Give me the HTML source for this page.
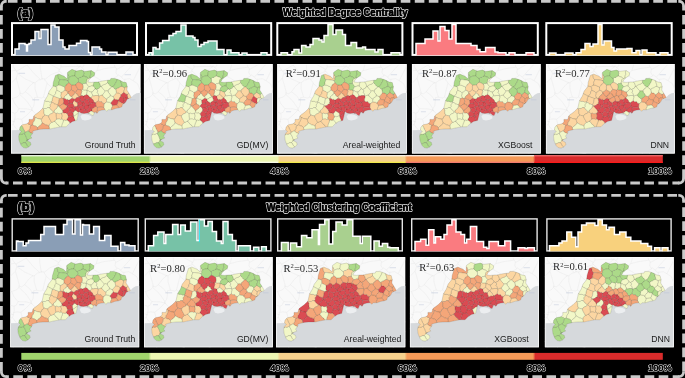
<!DOCTYPE html><html><head><meta charset="utf-8"><style>html,body{margin:0;padding:0;background:#000;overflow:hidden;width:685px;height:378px}svg{display:block}text{font-family:"Liberation Sans",sans-serif} .sf{font-family:"Liberation Serif",serif}</style></head><body>
<svg width="685" height="378" viewBox="0 0 685 378">
<rect width="685" height="378" fill="#000"/>
<defs>
<path id="prov" d="M42.3,18.4 L44.4,11.4 L47.9,10.1 L53.1,12.3 L56.2,14.9 L56.6,8.3 L61,5.3 L65.4,7 L70.7,6.1 L73.3,7.4 L80.3,6.6 L83.8,8.8 L83.4,11.4 L78.5,14.9 L76.8,18 L80.3,18.4 L84.7,18 L87.2,18 L91.4,17 L94.6,16.5 L99.3,16 L99.9,14.4 L103.6,14.4 L108.3,16 L112,18 L115.2,18.6 L116.3,22.8 L115.8,26 L117.9,29.2 L119.5,32 L120.3,33.4 L118.7,34.2 L116.3,35 L115.1,37.3 L113.9,38.9 L111.5,40.5 L110.7,42.9 L108.4,43.7 L104.4,44.5 L101.2,45.7 L97.3,45.7 L95.7,47.3 L94.1,45.7 L90.9,46.1 L87.7,46.9 L86.1,49.3 L83.8,47.7 L82.2,51.6 L80.6,51.1 L79,49.5 L76.3,49 L73,49.5 L70,49 L67.9,47.4 L66.8,52.2 L65.7,56.4 L61.5,57.5 L58.3,59.6 L55.2,62.7 L49.9,62.7 L44.6,63.8 L39.3,64.9 L32.3,65 L27.6,65.5 L23.8,66.5 L21.4,67.4 L21.9,68.4 L20.9,70.3 L19.5,72.2 L20.9,74.1 L18.5,75 L16.1,76.5 L17.6,77.4 L19.5,78.4 L20,80.8 L18,82.7 L15.2,84.1 L12.3,83.6 L10.4,81.7 L9,78.9 L8,76 L7.6,72.2 L8.5,69.3 L10.4,67.4 L8.5,66 L9,63.1 L11.4,60.8 L16.1,59.8 L18,57.9 L18,55.4 L21.8,55.4 L23.1,51.6 L28.2,47.8 L32,44 L33.5,37 L36.5,32 L38.3,27.1 L41.8,22.8 Z"/>
<filter id="gs" x="-0.1" y="-0.3" width="1.2" height="1.6" filterUnits="objectBoundingBox"><feColorMatrix type="saturate" values="0"/></filter>
<path id="k0" d="M97.2,26.8 L97.69,25.51 L98.97,24.97 L99.59,23.81 L100.7,23.1 L99.53,22.06 L98.58,20.82 L97.45,19.74 L96.5,18.5 L95.14,19.77 L93.43,20.45 L91.59,20.93 L90.27,22.26 L90.2,22.4 L91,23.72 L92.02,24.86 L93.04,25.99 L94.1,27.1 L95.11,26.72 L96.19,27.13Z"/>
<path id="k1" d="M101.3,41.3 L101.1,40.46 L100.37,39.94 L100,39.2 L98.67,38.3 L97.13,38.06 L95.6,37.8 L95.03,38.53 L94.09,38.8 L93.5,39.5 L92.85,40.76 L92.81,42.14 L92.7,43.5 L93.13,44.2 L93.59,44.89 L93.81,45.74 L94.1,45.7 L95.7,47.3 L97.3,45.7 L100.5,45.7 L100.42,44.17 L101.35,42.82Z"/>
<path id="k2" d="M42.3,32.3 L43.5,30.99 L44.64,29.64 L44.75,27.62 L46.1,26.4 L45.8,25.17 L45.88,23.84 L45.2,22.7 L44.07,22.61 L43.06,21.96 L41.89,21.97 L41.8,22.8 L38.3,27.1 L37.5,29.2 L38.48,30.31 L39.84,30.84 L41.06,31.58Z"/>
<path id="k3" d="M32.1,44.8 L33.66,44.46 L35.31,44.6 L36.74,43.47 L38.4,43.7 L39.43,42.55 L39.1,40.84 L40.14,39.69 L40.62,38.31 L40.4,37.8 L38.65,37.91 L37.04,37.26 L35.29,37.36 L33.74,36.6 L33.5,37 L32,44 L31.57,44.43Z"/>
<path id="k4" d="M64.2,46.3 L63.15,46.89 L62.75,48.11 L61.8,48.8 L62.24,49.79 L62.29,50.84 L62.29,51.86 L62.7,52.1 L63.93,51.69 L64.96,50.87 L65.94,49.95 L67.34,49.83 L67.7,48.2 L66.47,47.68 L65.48,46.72Z"/>
<path id="k5" d="M72.8,11.9 L73.8,12.67 L75.11,12.94 L76.3,13.4 L77.1,14.5 L77.91,14.47 L78.63,14.08 L79.4,13.9 L79.07,12.02 L79.93,10.26 L79.55,8.38 L80.21,6.61 L73.3,7.4 L72.2,6.8 L72.57,8.05 L72.87,9.31 L72.58,10.63Z"/>
<path id="k6" d="M77.5,48.8 L78.58,48.16 L79.59,47.37 L80.9,47.2 L81.07,46.3 L80.98,45.4 L81,44.5 L80.02,44.19 L79.19,43.65 L78.5,42.9 L77.72,44.24 L76.59,45.25 L75.4,46.2 L76.08,47.08 L76.63,48.07Z"/>
<path id="k7" d="M64.2,28.3 L65.06,27.33 L66.14,26.55 L66.8,25.4 L66.42,24.13 L65.74,22.97 L64.97,21.86 L64.8,20.5 L63.48,20.76 L62.15,20.89 L60.8,20.9 L60.39,22.44 L60.58,24.05 L60.3,25.6 L61.41,26.77 L62.93,27.36Z"/>
<path id="k8" d="M82,22.1 L82.97,22.83 L83.7,23.74 L84.1,24.9 L84.72,25.15 L85.33,25.41 L86,25.5 L87.02,24.69 L88.32,24.25 L88.89,22.83 L90.23,22.44 L90.3,22.3 L89.28,21.42 L89.13,20.05 L88.38,19.03 L87.8,17.86 L87.2,18 L84.7,18 L82.9,18.2 L82.52,19.48 L82.12,20.76Z"/>
<path id="k9" d="M96.5,18.5 L97.45,19.74 L98.58,20.82 L99.53,22.06 L100.69,23.12 L101.8,23.1 L103.21,21.31 L104.37,19.38 L105.46,17.41 L106.3,15.32 L103.6,14.4 L99.9,14.4 L99.3,16 L96.4,16.3 L96.58,17.03 L96.45,17.77Z"/>
<path id="k10" d="M45.3,55.6 L46.71,55.05 L48.16,54.86 L49.68,55.55 L51.1,55.1 L50.71,53.59 L51.43,52.04 L50.89,50.53 L50.9,49 L49.45,49.41 L47.99,49.73 L46.42,48.95 L45,49.6 L45.08,51.1 L45.14,52.6 L45.49,54.09Z"/>
<path id="k11" d="M45.2,22.7 L45.81,22.04 L46.67,21.72 L47.3,21.1 L47.96,19.8 L47.81,18.3 L48.51,17.01 L48.7,15.6 L47.76,14.54 L47.31,13.26 L47.23,11.8 L46.42,10.65 L44.4,11.4 L42.3,18.4 L41.9,22 L43.06,21.96 L44.07,22.61Z"/>
<path id="k12" d="M100,39.2 L100.51,37.89 L101.51,36.94 L102.43,35.92 L103.2,34.8 L102.74,34.05 L102.58,33.18 L102.2,32.4 L101.13,32.31 L100.19,31.67 L99.1,31.7 L98.2,33.13 L96.54,33.73 L95.5,35 L95.8,35.92 L95.31,36.88 L95.6,37.8 L97.13,38.06 L98.67,38.3Z"/>
<path id="k13" d="M60.3,25.6 L60.58,24.05 L60.39,22.44 L60.8,20.9 L59.75,20.11 L58.77,19.22 L57.6,18.6 L56.67,19.77 L55.26,20.47 L54.67,21.97 L53.5,22.9 L53.74,23.99 L53.53,25.15 L54,26.2 L54.97,26.77 L56,27.27 L56.7,28.2 L58.15,27.68 L59.3,26.75Z"/>
<path id="k14" d="M48.7,15.6 L50.83,15.62 L52.93,15.94 L55.04,16.16 L57.1,16.7 L57.84,15.54 L57.67,14.03 L58.5,12.9 L57.5,12.04 L57.39,10.62 L56.52,9.69 L56.2,14.9 L53.1,12.3 L47.9,10.1 L46.4,10.7 L47.23,11.8 L47.31,13.26 L47.76,14.54Z"/>
<path id="k15" d="M87.5,31.5 L87.45,29.92 L86.26,28.62 L86.83,26.89 L86,25.5 L85.33,25.41 L84.72,25.15 L84.1,24.9 L82.91,25.83 L82.08,27.18 L80.7,27.9 L80.59,29.28 L81.36,30.47 L81.5,31.8 L83.01,31.97 L84.49,31.49 L86,31.54Z"/>
<path id="k16" d="M75.3,18.9 L75.64,17.33 L76.03,15.77 L77.1,14.5 L76.3,13.4 L75.11,12.94 L73.8,12.67 L72.8,11.9 L71.2,12.12 L70.13,13.41 L68.46,13.5 L67.3,14.6 L67.46,15.81 L67.63,17.01 L67.2,18.2 L68.75,18.78 L70.18,19.58 L71.6,20.4 L72.7,19.58 L74.18,19.67Z"/>
<path id="k17" d="M71.1,37.8 L71.72,37.56 L72.39,37.84 L73,37.6 L73.52,37.05 L73.91,36.38 L74.5,35.9 L73.77,34.68 L73.19,33.4 L72.9,32 L71.99,31.73 L71.09,31.36 L70.1,31.5 L69.55,31.89 L68.91,32.15 L68.4,32.6 L68.64,34.03 L69.34,35.35 L69.5,36.8 L70,37.19 L70.52,37.54Z"/>
<path id="k18" d="M13.5,68.9 L12.24,69.73 L10.9,70.32 L9.21,69.94 L8,70.91 L7.6,72.2 L8,76 L9,78.9 L9.5,79.8 L11.14,79.59 L12.6,78.63 L14.3,78.7 L15.01,77.75 L15.89,76.91 L16.2,75.7 L15.56,73.99 L15.01,72.24 L13.98,70.68Z"/>
<path id="k19" d="M51.7,48.3 L52.98,49.25 L54.72,48.95 L56,49.9 L57.03,48.99 L57.83,47.87 L58.8,46.9 L58.69,46.17 L58.84,45.42 L58.6,44.7 L57.95,43.68 L57.14,42.83 L56.1,42.25 L55.9,42.3 L55.23,43.85 L53.99,44.91 L52.38,45.66 L51.72,47.25Z"/>
<path id="k20" d="M107.3,36.2 L108.27,34.84 L109.01,33.34 L110,32 L109.84,31.61 L109.92,31.2 L109.9,30.8 L108.94,29.88 L107.89,29.1 L106.46,28.93 L105.5,28 L104.95,29.31 L104.11,30.39 L103.23,31.46 L102.2,32.4 L102.58,33.18 L102.74,34.05 L103.2,34.8 L104.44,35.65 L105.91,35.81Z"/>
<path id="k21" d="M42.9,47.8 L43.59,48.41 L44.21,49.11 L45,49.6 L46.42,48.95 L47.99,49.73 L49.45,49.41 L50.94,49.01 L51.67,48.27 L51.7,47.2 L51.08,45.51 L49.74,44.39 L48.63,43.09 L47.49,41.82 L46.8,41.6 L46.12,43.34 L45.19,44.91 L43.43,45.97Z"/>
<path id="k22" d="M42.3,32.4 L41.65,33.69 L41.28,35.07 L41.12,36.54 L40.39,37.78 L40.6,38.3 L42.26,38.56 L43.34,40.11 L45.08,40.21 L46.5,41 L47.38,39.49 L47.88,37.86 L48.07,36.12 L48.6,34.5 L47.12,33.7 L45.48,33.36 L44.03,32.45Z"/>
<path id="k23" d="M74.9,40.6 L74.27,41.62 L73.27,42.34 L72.68,43.44 L72.7,44 L73.05,44.63 L73.53,45.18 L73.9,45.8 L74.43,45.82 L74.91,46.04 L75.4,46.2 L76.59,45.25 L77.72,44.24 L78.5,42.9 L78.21,42.23 L77.94,41.55 L78,40.8 L76.95,40.96 L75.93,40.78Z"/>
<path id="k24" d="M56,55.9 L57.06,56.91 L58.22,57.85 L58.9,59.2 L61.5,57.5 L64.2,56.8 L63.86,55.18 L63.1,53.7 L62.68,52.15 L62.3,51.9 L61.02,51.85 L59.87,52.77 L58.53,52.28 L57.3,52.6 L57.05,53.77 L56.1,54.67Z"/>
<path id="k25" d="M79.4,13.9 L78.63,14.08 L77.91,14.47 L77.1,14.5 L76.03,15.77 L75.64,17.33 L75.3,18.9 L75.74,20.45 L76.9,21.54 L77.8,22.8 L79.18,22.44 L80.53,21.9 L82,22.1 L82.12,20.76 L82.52,19.48 L82.86,18.17 L80.3,18.4 L76.8,18 L78.5,14.9 L79.71,14.03Z"/>
<path id="k26" d="M23.8,53.3 L25.32,53.96 L26.82,54.65 L28.45,54.91 L30.1,55.1 L31.43,54.44 L31.69,52.81 L33.05,52.18 L33.8,51 L33.11,49.52 L32.82,47.94 L33,46.22 L32.09,44.83 L31.57,44.43 L28.2,47.8 L23.1,51.6 L22.9,52.1 L23.11,52.57 L23.45,52.94Z"/>
<path id="k27" d="M23.8,53.3 L23.78,55.29 L23.05,57.08 L21.82,58.74 L21.7,60.7 L22.71,61.78 L24.27,61.94 L25.5,62.66 L26.6,63.6 L27.77,62.4 L29.18,61.42 L30.5,60.36 L31.3,58.8 L30.8,57.6 L30.46,56.35 L30.1,55.1 L28.45,54.91 L26.82,54.65 L25.32,53.96Z"/>
<path id="k28" d="M21.37,69.41 L21.9,68.4 L21.4,67.4 L23.8,66.5 L27,65.7 L27.04,64.97 L26.54,64.34 L26.6,63.6 L25.5,62.66 L24.27,61.94 L22.71,61.78 L21.7,60.7 L21,60.89 L20.38,61.26 L19.7,61.5 L18.94,62.8 L18.82,64.36 L18.14,65.69 L17.4,67 L18.48,68.22 L19.9,68.88Z"/>
<path id="k29" d="M101.8,23.1 L102.83,23.82 L103.59,24.91 L104.8,25.4 L106.25,24.38 L107.92,23.84 L109.34,22.77 L111.1,22.4 L110.86,20.85 L110.4,19.37 L110.05,17.85 L109.2,16.48 L108.3,16 L106.3,15.3 L105.46,17.41 L104.37,19.38 L103.21,21.31Z"/>
<path id="k30" d="M44,57.3 L42.79,57.44 L41.72,58.11 L40.5,58.2 L39.42,59.36 L38.36,60.53 L37.9,62.1 L38.1,63.02 L38.34,63.94 L38.2,64.92 L39.3,64.9 L44.6,63.8 L49,62.9 L47.92,61.35 L46.23,60.34 L45.13,58.81Z"/>
<path id="k31" d="M54,26.2 L53.53,25.15 L53.74,23.99 L53.5,22.9 L51.98,22.35 L50.51,21.62 L49,21.02 L47.3,21.1 L46.67,21.72 L45.81,22.04 L45.2,22.7 L45.88,23.84 L45.8,25.17 L46.1,26.4 L47.35,27.11 L48.75,27.56 L49.8,28.6 L51.4,28.15 L52.68,27.14Z"/>
<path id="k32" d="M72.9,32 L73.76,31.37 L74.86,31.13 L75.6,30.3 L75.9,29.12 L76.16,27.93 L76.2,26.66 L76.1,26.5 L74.65,25.91 L73.02,26.02 L71.6,25.3 L71.2,25.52 L70.84,25.8 L70.5,26.1 L70.83,27.48 L70.45,28.81 L69.94,30.13 L70.1,31.5 L71.09,31.36 L71.99,31.73Z"/>
<path id="k33" d="M104.8,25.4 L104.92,26.3 L104.98,27.21 L105.5,28 L106.46,28.93 L107.89,29.1 L108.94,29.88 L109.9,30.8 L110.93,30.15 L111.72,29.21 L112.7,28.5 L112.96,26.87 L113.61,25.29 L113.5,23.6 L112.69,23.21 L111.89,22.82 L111.1,22.4 L109.34,22.77 L107.92,23.84 L106.25,24.38Z"/>
<path id="k34" d="M84.6,38.9 L85.41,37.93 L86.63,37.41 L87.4,36.4 L87.56,34.87 L88.12,33.37 L87.83,31.82 L87.5,31.5 L86,31.54 L84.49,31.49 L83.01,31.97 L81.5,31.8 L81.03,32.43 L80.41,32.91 L79.9,33.5 L80.64,34.95 L82.1,35.86 L82.7,37.42 L83.81,38.59Z"/>
<path id="k35" d="M38.4,43.7 L36.74,43.47 L35.31,44.6 L33.66,44.46 L32.1,44.8 L33,46.22 L32.82,47.94 L33.11,49.52 L33.8,51 L35.01,51.4 L36.25,51.71 L37.5,52 L38.52,50.65 L39.95,49.78 L41.63,49.22 L42.6,47.8 L41.42,46.91 L40.27,45.99 L39.39,44.79Z"/>
<path id="k36" d="M92.7,43.5 L92.81,42.14 L92.85,40.76 L93.5,39.5 L91.76,39.15 L90.68,37.51 L88.69,37.63 L87.4,36.4 L86.63,37.41 L85.41,37.93 L84.6,38.9 L84.63,40.06 L84.86,41.19 L85.2,42.3 L85.53,42.7 L85.95,43.02 L86.3,43.4 L87.9,43.25 L89.51,43.13 L91.1,43.21Z"/>
<path id="k37" d="M48.6,34.5 L48.07,36.12 L47.88,37.86 L47.38,39.49 L46.5,41.04 L46.8,41.59 L47.5,41.8 L49,41.85 L50.29,41.23 L51.39,40.01 L52.9,40.1 L52.48,38.7 L52.9,37.24 L52.43,35.84 L52.5,34.4 L51.81,34.37 L51.2,34.1 L50.6,33.8 L49.91,33.95 L49.23,34.17Z"/>
<path id="k38" d="M113.6,34.6 L112.2,34.01 L111.11,33 L110,32 L109.01,33.34 L108.27,34.84 L107.27,36.17 L107.4,36.7 L108.55,37.8 L109.89,38.54 L111.27,39.2 L112.82,39.62 L112.9,39.6 L113.62,38.43 L112.97,37.06 L113.23,35.82Z"/>
<path id="k39" d="M70.5,41.1 L71.06,42.03 L72.11,42.5 L72.7,43.4 L73.27,42.34 L74.27,41.62 L74.9,40.6 L74.57,39.41 L73.32,38.8 L73,37.6 L72.39,37.84 L71.72,37.56 L71.1,37.8 L71.12,38.94 L70.85,40.03Z"/>
<path id="k40" d="M65.15,6.9 L61,5.3 L56.6,8.3 L56.5,9.7 L57.39,10.62 L57.5,12.04 L58.5,12.9 L59.84,12.56 L61.14,12.02 L62.58,12.13 L63.9,11.7 L64.2,10.06 L64.33,8.38Z"/>
<path id="k41" d="M9.46,79.82 L10.4,81.7 L12.3,83.6 L15.2,84.1 L17.9,82.8 L16.67,82.06 L15.95,80.88 L15.51,79.45 L14.3,78.7 L12.6,78.63 L11.14,79.59Z"/>
<path id="k42" d="M105.8,40.7 L104.3,40.92 L102.81,41.18 L101.3,41.3 L101.35,42.82 L100.42,44.17 L100.48,45.7 L101.2,45.7 L104.4,44.5 L108.1,43.8 L107.61,42.56 L106.44,41.83Z"/>
<path id="k43" d="M56,55.9 L54.83,56.36 L53.58,55.9 L52.4,56.2 L52.06,57.86 L51.4,59.42 L50.77,61 L50.57,62.7 L55.2,62.7 L58.3,59.6 L58.9,59.2 L58.22,57.85 L57.06,56.91Z"/>
<path id="k44" d="M19.7,61.5 L18.83,60.51 L17.52,60.17 L16.5,59.4 L16.1,59.8 L11.4,60.8 L10.5,61.6 L11.63,63.14 L12.28,64.91 L13.29,66.5 L13.9,68.3 L15.11,67.97 L16.17,67.25 L17.4,67 L18.14,65.69 L18.82,64.36 L18.94,62.8Z"/>
<path id="k45" d="M61,33.8 L60.06,34.8 L58.96,35.56 L57.7,36.1 L57.64,37.32 L57.73,38.53 L58.1,39.7 L59.33,39.51 L60.57,39.74 L61.8,39.7 L62.06,38.52 L62.8,37.6 L63.4,36.6 L63.21,36.15 L63.22,35.66 L63.1,35.2 L62.53,34.53 L61.55,34.49Z"/>
<path id="k46" d="M85.84,49.12 L86.1,49.3 L87.7,46.9 L90.9,46.1 L93.8,45.7 L93.59,44.89 L93.13,44.2 L92.7,43.5 L91.1,43.21 L89.51,43.13 L87.9,43.25 L86.3,43.4 L86.35,44.84 L86.25,46.27 L85.54,47.64Z"/>
<path id="k47" d="M77.8,22.8 L76.9,21.54 L75.74,20.45 L75.3,18.9 L74.18,19.67 L72.7,19.58 L71.6,20.4 L72.03,22.03 L72,23.67 L71.6,25.3 L73.02,26.02 L74.65,25.91 L76.1,26.5 L76.28,25.09 L76.83,23.85Z"/>
<path id="k48" d="M83.8,38.6 L82.7,37.42 L82.1,35.86 L80.64,34.95 L79.89,33.47 L79.5,33.5 L78.94,34.39 L77.89,34.84 L77.4,35.8 L77.66,37.23 L78.19,38.59 L78.5,40 L79.83,39.69 L81.06,38.98 L82.56,39.27Z"/>
<path id="k49" d="M87.4,36.4 L88.69,37.63 L90.68,37.51 L91.76,39.15 L93.5,39.5 L94.09,38.8 L95.03,38.53 L95.6,37.8 L95.31,36.88 L95.8,35.92 L95.5,35 L94.29,34.24 L93.29,33.26 L92.16,32.43 L91.5,31.1 L90.22,31.08 L89.05,31.67 L87.8,31.8 L88.12,33.37 L87.56,34.87Z"/>
<path id="k50" d="M68.4,32.6 L66.99,31.91 L66.66,30.14 L65.03,29.67 L64.2,28.4 L63.2,29.33 L62.82,30.76 L61.38,31.33 L60.8,32.6 L60.83,33.01 L60.99,33.39 L61,33.8 L61.55,34.49 L62.53,34.53 L63.1,35.2 L64.62,34.95 L65.61,33.62 L67.14,33.39Z"/>
<path id="k51" d="M31.3,58.8 L32.88,59.77 L34.42,60.81 L36.29,61.2 L37.9,62.1 L38.36,60.53 L39.42,59.36 L40.5,58.2 L39.67,56.69 L38.84,55.18 L38.03,53.65 L37.5,52 L36.25,51.71 L35.01,51.4 L33.8,51 L33.05,52.18 L31.69,52.81 L31.43,54.44 L30.1,55.1 L30.46,56.35 L30.8,57.6Z"/>
<path id="k52" d="M67.2,18.2 L67.63,17.01 L67.46,15.81 L67.3,14.6 L66.02,13.8 L64.85,12.88 L63.9,11.7 L62.58,12.13 L61.14,12.02 L59.84,12.56 L58.5,12.9 L57.67,14.03 L57.84,15.54 L57.1,16.7 L57.25,17.34 L57.26,18.01 L57.6,18.6 L58.77,19.22 L59.75,20.11 L60.8,20.9 L62.15,20.89 L63.48,20.76 L64.8,20.5 L65.49,19.61 L66.45,19.02Z"/>
<path id="k53" d="M91.5,31.1 L92.31,29.73 L93.38,28.53 L94.1,27.1 L93.04,25.99 L92.02,24.86 L91,23.72 L90.2,22.4 L88.89,22.83 L88.32,24.25 L87.02,24.69 L86,25.5 L86.83,26.89 L86.26,28.62 L87.45,29.92 L87.52,31.54 L87.8,31.8 L89.05,31.67 L90.22,31.08Z"/>
<path id="k54" d="M57.3,52.6 L58.53,52.28 L59.87,52.77 L61.02,51.85 L62.3,51.9 L62.29,50.84 L62.24,49.79 L61.8,48.8 L60.82,48.13 L59.78,47.57 L58.8,46.9 L57.83,47.87 L57.03,48.99 L56,49.9 L56.58,50.73 L56.89,51.69Z"/>
<path id="k55" d="M62.7,52.1 L63.1,53.7 L63.86,55.18 L64.25,56.78 L65.7,56.4 L66.8,52.2 L67.3,49.8 L65.94,49.95 L64.96,50.87 L63.93,51.69Z"/>
<path id="k56" d="M52.51,34.4 L53,34.2 L53.53,32.65 L54.59,31.51 L56.05,30.68 L56.83,29.26 L56.7,28.2 L56,27.27 L54.97,26.77 L54,26.2 L52.68,27.14 L51.4,28.15 L49.8,28.6 L50.1,29.88 L49.66,31.28 L49.88,32.58 L50.6,33.8 L51.2,34.1 L51.81,34.37Z"/>
<path id="k57" d="M66.7,38.7 L65.46,38.22 L64.29,37.62 L63.4,36.6 L62.8,37.6 L62.06,38.52 L61.8,39.7 L62.47,40.78 L63.05,41.91 L63.7,43 L64.58,42.4 L65.7,42.43 L66.6,41.9 L66.77,40.84 L66.36,39.76Z"/>
<path id="k58" d="M72.8,11.9 L72.58,10.63 L72.87,9.31 L72.57,8.05 L72.19,6.85 L70.7,6.1 L65.4,7 L65.2,6.9 L64.33,8.38 L64.2,10.06 L63.9,11.7 L64.85,12.88 L66.02,13.8 L67.3,14.6 L68.46,13.5 L70.13,13.41 L71.2,12.12Z"/>
<path id="k59" d="M52.9,40.1 L53.93,40.79 L55.11,41.28 L55.94,42.26 L56.1,42.2 L56.72,41.33 L57.31,40.43 L58.1,39.7 L57.73,38.53 L57.64,37.32 L57.7,36.1 L56.65,35.32 L55.25,35.4 L54.26,34.47 L53.03,34.24 L52.5,34.4 L52.43,35.84 L52.9,37.24 L52.48,38.7Z"/>
<path id="k60" d="M58.1,39.7 L57.31,40.43 L56.72,41.33 L56.1,42.2 L57.14,42.83 L57.95,43.68 L58.6,44.7 L59.8,44.18 L61.08,43.92 L62.41,43.86 L63.63,43.26 L63.7,43 L63.05,41.91 L62.47,40.78 L61.8,39.7 L60.57,39.74 L59.33,39.51Z"/>
<path id="k61" d="M42.6,47.8 L41.63,49.22 L39.95,49.78 L38.52,50.65 L37.5,52 L38.03,53.65 L38.84,55.18 L39.67,56.69 L40.5,58.2 L41.72,58.11 L42.79,57.44 L44,57.3 L44.28,56.62 L44.78,56.1 L45.3,55.6 L45.49,54.09 L45.14,52.6 L45.08,51.1 L45,49.6 L44.21,49.11 L43.59,48.41 L42.86,47.79Z"/>
<path id="k62" d="M117.99,29.36 L117.9,29.2 L115.8,26 L116.3,22.8 L116.3,22.7 L115.33,22.88 L114.35,23.03 L113.5,23.6 L113.61,25.29 L112.96,26.87 L112.7,28.5 L113.93,29.14 L114.96,30.17 L116.4,30.4 L116.95,30.09 L117.45,29.71Z"/>
<path id="k63" d="M73.9,45.8 L73.53,45.18 L73.05,44.63 L72.7,44 L71.48,44.54 L70.22,44.9 L68.9,45.1 L68.53,45.87 L68.37,46.73 L68.05,47.51 L70,49 L71.4,49.2 L71.98,47.88 L73.16,47Z"/>
<path id="k64" d="M113.5,23.6 L114.35,23.03 L115.33,22.88 L116.28,22.73 L115.2,18.6 L112,18 L109.2,16.5 L110.05,17.85 L110.4,19.37 L110.86,20.85 L111.1,22.4 L111.89,22.82 L112.69,23.21Z"/>
<path id="k65" d="M105.5,28 L104.98,27.21 L104.92,26.3 L104.8,25.4 L103.59,24.91 L102.83,23.82 L101.85,23.12 L100.7,23.1 L99.59,23.81 L98.97,24.97 L97.69,25.51 L97.2,26.8 L97.27,28.18 L97.93,29.33 L99.1,30.29 L99.1,31.7 L100.19,31.67 L101.13,32.31 L102.2,32.4 L103.23,31.46 L104.11,30.39 L104.95,29.31Z"/>
<path id="k66" d="M85.2,42.3 L83.61,42.67 L82.53,44.02 L81,44.5 L80.98,45.4 L81.07,46.3 L80.9,47.2 L81.7,47.79 L82.63,48.23 L83.23,49.08 L83.8,47.7 L85.8,49.1 L85.54,47.64 L86.25,46.27 L86.35,44.84 L86.3,43.4 L85.95,43.02 L85.53,42.7Z"/>
<path id="k67" d="M60.8,32.6 L59.46,32.19 L58.64,31.14 L58.11,29.75 L56.8,29.3 L56.05,30.68 L54.59,31.51 L53.53,32.65 L53,34.2 L54.26,34.47 L55.25,35.4 L56.65,35.32 L57.7,36.1 L58.96,35.56 L60.06,34.8 L61,33.8 L60.99,33.39 L60.83,33.01Z"/>
<path id="k68" d="M116.4,30.4 L116.23,31.44 L116.59,32.46 L116.5,33.5 L116.98,33.77 L117.31,34.24 L117.82,34.49 L118.7,34.2 L120.3,33.4 L119.5,32 L118,29.4 L117.45,29.71 L116.95,30.09Z"/>
<path id="k69" d="M112.7,28.5 L111.72,29.21 L110.93,30.15 L109.9,30.8 L109.92,31.2 L109.84,31.61 L110,32 L111.11,33 L112.2,34.01 L113.6,34.6 L114.49,34.04 L115.59,34.01 L116.5,33.5 L116.59,32.46 L116.23,31.44 L116.4,30.4 L114.96,30.17 L113.93,29.14Z"/>
<path id="k70" d="M78,40.8 L77.94,41.55 L78.21,42.23 L78.5,42.9 L79.19,43.65 L80.02,44.19 L81,44.5 L82.53,44.02 L83.61,42.67 L85.2,42.3 L84.86,41.19 L84.63,40.06 L84.64,38.88 L83.8,38.6 L82.56,39.27 L81.06,38.98 L79.83,39.69 L78.46,40.02Z"/>
<path id="k71" d="M71.6,25.3 L72,23.67 L72.03,22.03 L71.6,20.4 L70.18,19.58 L68.75,18.78 L67.2,18.2 L66.45,19.02 L65.49,19.61 L64.8,20.5 L64.97,21.86 L65.74,22.97 L66.42,24.13 L66.8,25.4 L68.07,25.47 L69.25,25.98 L70.5,26.1 L70.84,25.8 L71.2,25.52Z"/>
<path id="k72" d="M37.51,29.25 L36.5,32 L33.7,36.6 L35.29,37.36 L37.04,37.26 L38.65,37.91 L40.4,37.8 L41.12,36.54 L41.28,35.07 L41.65,33.69 L42.31,32.43 L42.3,32.3 L41.06,31.58 L39.84,30.84 L38.48,30.31Z"/>
<path id="k73" d="M50.9,49 L50.89,50.53 L51.43,52.04 L50.71,53.59 L51.1,55.1 L51.44,55.58 L51.99,55.8 L52.4,56.2 L53.58,55.9 L54.83,56.36 L56,55.9 L56.1,54.67 L57.05,53.77 L57.3,52.6 L56.89,51.69 L56.58,50.73 L56,49.9 L54.72,48.95 L52.98,49.25 L51.67,48.27Z"/>
<path id="k74" d="M71.44,49.24 L73,49.5 L76.3,49 L77.4,49.2 L77.5,48.8 L76.63,48.07 L76.08,47.08 L75.4,46.2 L74.91,46.04 L74.43,45.82 L73.9,45.8 L73.16,47 L71.98,47.88Z"/>
<path id="k75" d="M107.4,36.7 L106.9,38.05 L106.6,39.48 L105.8,40.7 L106.44,41.83 L107.61,42.56 L108.07,43.77 L108.4,43.7 L110.7,42.9 L111.5,40.5 L112.8,39.6 L111.27,39.2 L109.89,38.54 L108.55,37.8Z"/>
<path id="k76" d="M74.5,35.9 L75.46,35.56 L76.43,35.82 L77.4,35.8 L77.89,34.84 L78.94,34.39 L79.5,33.5 L78.4,32.85 L77.71,31.7 L76.67,30.98 L75.6,30.3 L74.86,31.13 L73.76,31.37 L72.9,32 L73.19,33.4 L73.77,34.68Z"/>
<path id="k77" d="M73,37.6 L73.32,38.8 L74.57,39.41 L74.9,40.6 L75.93,40.78 L76.95,40.96 L77.97,40.8 L78.5,40 L78.19,38.59 L77.66,37.23 L77.4,35.8 L76.43,35.82 L75.46,35.56 L74.5,35.9 L73.91,36.38 L73.52,37.05Z"/>
<path id="k78" d="M37.9,62.1 L36.29,61.2 L34.42,60.81 L32.88,59.77 L31.3,58.8 L30.5,60.36 L29.18,61.42 L27.77,62.4 L26.6,63.6 L26.54,64.34 L27.04,64.97 L27.01,65.65 L27.6,65.5 L32.3,65 L38.2,64.9 L38.34,63.94 L38.1,63.02Z"/>
<path id="k79" d="M68.9,45.1 L68.04,44.19 L67.68,42.96 L66.87,42.01 L66.6,41.9 L65.7,42.43 L64.58,42.4 L63.74,43.05 L63.6,43.3 L63.83,44.29 L63.84,45.33 L64.2,46.3 L65.48,46.72 L66.47,47.68 L67.72,48.19 L67.9,47.4 L68,47.5 L68.37,46.73 L68.53,45.87Z"/>
<path id="k80" d="M70.5,41.1 L70.85,40.03 L71.12,38.94 L71.1,37.8 L70.52,37.54 L70,37.19 L69.5,36.8 L68.45,37.26 L67.43,37.77 L66.7,38.7 L66.36,39.76 L66.77,40.84 L66.58,41.89 L66.9,42 L68.09,41.66 L69.31,41.43Z"/>
<path id="k81" d="M57.6,18.6 L57.26,18.01 L57.25,17.34 L57.1,16.7 L55.04,16.16 L52.93,15.94 L50.83,15.62 L48.7,15.6 L48.51,17.01 L47.81,18.3 L47.96,19.8 L47.3,21.1 L49,21.02 L50.51,21.62 L51.98,22.35 L53.5,22.9 L54.67,21.97 L55.26,20.47 L56.67,19.77Z"/>
<path id="k82" d="M80.9,47.2 L79.59,47.37 L78.58,48.16 L77.46,48.75 L77.4,49.2 L79,49.5 L80.6,51.1 L82.2,51.6 L83.2,49.1 L82.63,48.23 L81.7,47.79Z"/>
<path id="k83" d="M80.7,27.9 L82.08,27.18 L82.91,25.83 L84.1,24.9 L83.7,23.74 L82.97,22.83 L82,22.1 L80.53,21.9 L79.18,22.44 L77.8,22.8 L76.83,23.85 L76.28,25.09 L76.12,26.51 L76.2,26.7 L77.73,26.99 L79.07,27.97Z"/>
<path id="k84" d="M70.1,31.5 L69.94,30.13 L70.45,28.81 L70.83,27.48 L70.5,26.1 L69.25,25.98 L68.07,25.47 L66.8,25.4 L66.14,26.55 L65.06,27.33 L64.19,28.29 L64.2,28.4 L65.03,29.67 L66.66,30.14 L66.99,31.91 L68.39,32.6 L68.4,32.6 L68.91,32.15 L69.55,31.89Z"/>
<path id="k85" d="M79.44,13.92 L79.71,14.03 L83.4,11.4 L83.8,8.8 L80.3,6.6 L80.2,6.6 L79.55,8.38 L79.93,10.26 L79.07,12.02Z"/>
<path id="k86" d="M49.8,28.6 L48.75,27.56 L47.35,27.11 L46.1,26.4 L44.75,27.62 L44.64,29.64 L43.5,30.99 L42.27,32.3 L42.3,32.4 L44.03,32.45 L45.48,33.36 L47.12,33.7 L48.6,34.5 L49.23,34.17 L49.91,33.95 L50.6,33.8 L49.88,32.58 L49.66,31.28 L50.1,29.88Z"/>
<path id="k87" d="M46.5,41 L45.08,40.21 L43.34,40.11 L42.26,38.56 L40.6,38.3 L40.14,39.69 L39.1,40.84 L39.43,42.55 L38.4,43.7 L39.39,44.79 L40.27,45.99 L41.42,46.91 L42.62,47.78 L42.9,47.8 L43.43,45.97 L45.19,44.91 L46.12,43.34 L46.8,41.59Z"/>
<path id="k88" d="M60.8,32.6 L61.38,31.33 L62.82,30.76 L63.2,29.33 L64.2,28.42 L64.2,28.3 L62.93,27.36 L61.41,26.77 L60.3,25.6 L59.3,26.75 L58.15,27.68 L56.72,28.23 L56.8,29.3 L58.11,29.75 L58.64,31.14 L59.46,32.19Z"/>
<path id="k89" d="M68.9,45.1 L70.22,44.9 L71.48,44.54 L72.68,44.02 L72.7,43.4 L72.11,42.5 L71.06,42.03 L70.5,41.1 L69.31,41.43 L68.09,41.66 L66.9,42 L67.68,42.96 L68.04,44.19Z"/>
<path id="k90" d="M69.5,36.8 L69.34,35.35 L68.64,34.03 L68.44,32.61 L68.4,32.6 L67.14,33.39 L65.61,33.62 L64.62,34.95 L63.1,35.2 L63.22,35.66 L63.21,36.15 L63.4,36.6 L64.29,37.62 L65.46,38.22 L66.7,38.7 L67.43,37.77 L68.45,37.26Z"/>
<path id="k91" d="M17.4,67 L16.17,67.25 L15.11,67.97 L13.88,68.31 L13.5,68.9 L13.98,70.68 L15.01,72.24 L15.56,73.99 L16.2,75.7 L16.67,75.74 L17.14,75.73 L17.61,75.56 L18.5,75 L20.9,74.1 L19.5,72.2 L20.9,70.3 L21.4,69.4 L19.9,68.88 L18.48,68.22Z"/>
<path id="k92" d="M51.7,47.2 L52.38,45.66 L53.99,44.91 L55.23,43.85 L55.9,42.3 L55.11,41.28 L53.93,40.79 L52.9,40.1 L51.39,40.01 L50.29,41.23 L49,41.85 L47.5,41.8 L48.63,43.09 L49.74,44.39 L51.08,45.51Z"/>
<path id="k93" d="M90.3,22.3 L91.59,20.93 L93.43,20.45 L95.14,19.77 L96.5,18.5 L96.45,17.77 L96.58,17.03 L96.41,16.31 L94.6,16.5 L91.4,17 L87.8,17.9 L88.38,19.03 L89.13,20.05 L89.28,21.42Z"/>
<path id="k94" d="M116.5,33.5 L115.59,34.01 L114.49,34.04 L113.6,34.6 L113.23,35.82 L112.97,37.06 L113.62,38.43 L112.88,39.58 L113.9,38.9 L115.1,37.3 L116.3,35 L117.8,34.5 L117.31,34.24 L116.98,33.77Z"/>
<path id="k95" d="M79.9,33.5 L80.41,32.91 L81.03,32.43 L81.5,31.8 L81.36,30.47 L80.59,29.28 L80.7,27.9 L79.07,27.97 L77.73,26.99 L76.2,26.7 L76.16,27.93 L75.9,29.12 L75.6,30.3 L76.67,30.98 L77.71,31.7 L78.4,32.85 L79.51,33.53Z"/>
<path id="k96" d="M95.5,35 L96.54,33.73 L98.2,33.13 L99.1,31.7 L99.1,30.29 L97.93,29.33 L97.27,28.18 L97.2,26.8 L96.19,27.13 L95.11,26.72 L94.1,27.1 L93.38,28.53 L92.31,29.73 L91.5,31.1 L92.16,32.43 L93.29,33.26 L94.29,34.24Z"/>
<path id="k97" d="M19.7,61.5 L20.38,61.26 L21,60.89 L21.7,60.7 L21.82,58.74 L23.05,57.08 L23.78,55.29 L23.8,53.3 L23.45,52.94 L23.11,52.57 L22.94,52.07 L21.8,55.4 L18,55.4 L18,57.9 L16.5,59.4 L17.52,60.17 L18.83,60.51Z"/>
<path id="k98" d="M52.4,56.2 L51.99,55.8 L51.44,55.58 L51.1,55.1 L49.68,55.55 L48.16,54.86 L46.71,55.05 L45.3,55.6 L44.78,56.1 L44.28,56.62 L44,57.3 L45.13,58.81 L46.23,60.34 L47.92,61.35 L49.04,62.88 L49.9,62.7 L50.6,62.7 L50.77,61 L51.4,59.42 L52.06,57.86Z"/>
<path id="k99" d="M100,39.2 L100.37,39.94 L101.1,40.46 L101.3,41.3 L102.81,41.18 L104.3,40.92 L105.8,40.7 L106.6,39.48 L106.9,38.05 L107.44,36.68 L107.3,36.2 L105.91,35.81 L104.44,35.65 L103.2,34.8 L102.43,35.92 L101.51,36.94 L100.51,37.89Z"/>
<path id="k100" d="M58.6,44.7 L58.84,45.42 L58.69,46.17 L58.8,46.9 L59.78,47.57 L60.82,48.13 L61.8,48.8 L62.75,48.11 L63.15,46.89 L64.2,46.3 L63.84,45.33 L63.83,44.29 L63.6,43.3 L62.41,43.86 L61.08,43.92 L59.8,44.18Z"/>
<path id="k101" d="M16.2,75.7 L15.89,76.91 L15.01,77.75 L14.3,78.7 L15.51,79.45 L15.95,80.88 L16.67,82.06 L17.86,82.77 L18,82.7 L20,80.8 L19.5,78.4 L17.6,77.4 L16.1,76.5 L17.6,75.6 L17.14,75.73 L16.67,75.74Z"/>
<path id="k102" d="M13.54,68.86 L13.9,68.3 L13.29,66.5 L12.28,64.91 L11.63,63.14 L10.54,61.62 L9,63.1 L8.5,66 L10.4,67.4 L8.5,69.3 L8,70.9 L9.21,69.94 L10.9,70.32 L12.24,69.73Z"/>
<path id="basel" d="M-224.41,36.85 L-110.89,21.47 L4.77,6.29 M2.71,-2.22 L2.39,2.94 L4.77,6.29 M172.87,49.97 L145.38,60.22 L116.58,68.64 M171.06,90.82 L157.92,86.46 L143.21,83.51 M143.21,83.51 L130.77,75.32 L116.58,68.64 M103.06,50.96 L104.9,59.15 L108.9,68 M103.06,50.96 L104.35,48.83 L105.64,48 M172.87,49.97 L165.03,47.79 L156.57,45.01 M156.57,45.01 L144.9,42.54 L134.8,39.33 M134.8,39.33 L121.86,43.33 L109.78,45.93 M105.64,48 L107.09,47.86 L109.78,45.93 M108.9,68 L112.49,68.48 L116.58,68.64 M85.79,138.33 L92.23,110.83 L97.63,83.22 M85.79,138.33 L80.36,113.7 L76.38,86.19 M97.63,83.22 L88.35,82.27 L81.5,82.37 M76.38,86.19 L79.08,82.86 L81.5,82.37 M90.58,238.24 L87.15,189.18 L85.79,138.33 M11.07,287.37 L27.09,195.87 L41.4,103.55 M76.38,86.19 L76.68,86.74 L74.57,85.75 M74.57,85.75 L57.38,95.08 L41.4,103.55 M88.01,62.48 L79.23,64.09 L71.41,64.2 M88.01,62.48 L84.52,67.67 L81.72,74.94 M81.72,74.94 L77.69,70.14 L71.41,64.2 M62.82,63.25 L64.23,70 L64.17,76.4 M62.82,63.25 L65.29,62.3 L66.07,61.66 M66.07,61.66 L68.94,61.62 L71.41,64.2 M81.5,82.37 L81.77,79.6 L81.72,74.94 M74.57,85.75 L69.99,81.98 L64.17,76.4 M55.62,60.78 L47.85,70.22 L40.11,77.37 M55.62,60.78 L58.04,63.14 L62.82,63.25 M64.17,76.4 L52.17,80.72 L40.95,87.5 M40.11,77.37 L40.89,82.3 L40.95,87.5 M41.4,103.55 L40.54,98.07 L40.11,90.48 M40.95,87.5 L39.44,89.34 L40.11,90.48 M105.64,48 L101.25,33.73 L97.37,19.3 M109.78,45.93 L111.82,29.53 L113.85,15.32 M113.85,15.32 L112.19,15.3 L110.46,13.09 M110.46,13.09 L107.62,10.98 L106.75,11.8 M97.37,19.3 L100.76,15.43 L106.75,11.8 M131.96,-11.18 L122.63,-0.41 L110.46,13.09 M131.96,-11.18 L120.13,-2.65 L105.35,5.66 M106.75,11.8 L104.91,8.49 L105.35,5.66 M96.37,-105.3 L95.4,-64.35 L96.19,-24.69 M96.19,-24.69 L100.2,-11.37 L103.97,3.22 M145.3,-22.36 L137.9,-15.67 L131.96,-11.18 M103.97,3.22 L105.46,4.25 L105.35,5.66 M71,21.93 L76.41,29 L82.38,34.66 M71,21.93 L66.57,22.52 L59.32,25.64 M59.32,25.64 L55.95,29.18 L54.62,33.54 M82.38,34.66 L83.82,38.75 L85.22,45.41 M54.88,34.33 L53.41,33.09 L54.62,33.54 M54.88,34.33 L65,41.63 L75.8,47.5 M75.8,47.5 L80.84,45.04 L85.22,45.41 M103.06,50.96 L99.47,50.79 L98.61,50.91 M98.61,50.91 L93.04,49.41 L85.22,45.41 M92.56,18.51 L94.56,20.07 L97.37,19.3 M92.56,18.51 L88.76,26.3 L82.38,34.66 M50.42,52.8 L53.76,56.39 L55.62,60.78 M50.42,52.8 L51.61,43.79 L54.88,34.33 M66.07,61.66 L69.69,55.07 L75.8,47.5 M98.61,50.91 L94.24,57.94 L88.01,62.48 M77.71,12.95 L80.26,11.46 L83.13,12.27 M77.71,12.95 L75.54,9.22 L70.95,3.26 M70.95,3.26 L73.06,1.92 L72.36,0.02 M72.36,0.02 L80.53,-1.6 L87.66,-2.46 M83.13,12.27 L83.6,8.86 L85.98,6.7 M87.66,-2.46 L87.48,1.6 L85.98,6.7 M92.56,18.51 L88.42,15.4 L83.13,12.27 M71,21.93 L74.2,18.84 L77.71,12.95 M55.3,15.13 L60.76,9 L68.22,2.94 M55.3,15.13 L56.29,21.69 L59.32,25.64 M68.22,2.94 L69.55,2.6 L70.95,3.26 M96.37,-105.3 L83.37,-52.36 L72.36,0.02 M96.19,-24.69 L91.62,-14.69 L87.66,-2.46 M103.97,3.22 L93.57,4.63 L85.98,6.7 M51.66,33.04 L44.08,26.24 L35.99,19.33 M51.66,33.04 L46.88,35.98 L39.69,36.46 M39.69,36.46 L37.43,35.67 L32.56,33.08 M32.56,33.08 L34.21,26.28 L35.99,19.33 M4.77,6.29 L4.95,6.36 L5.75,7.03 M5.75,7.03 L9.5,4.94 L16,1.06 M36.29,-103.13 L31.09,-57.42 L27.4,-8.89 M27.4,-8.89 L21.6,-3.26 L16,1.06 M5.75,7.03 L6.02,7.91 L6.66,9.61 M24.12,18.65 L27.33,16.11 L29.59,15.59 M24.12,18.65 L21.85,18.92 L22.5,18.64 M16,1.06 L22.88,9.42 L29.59,15.59 M6.66,9.61 L14.33,14.98 L22.5,18.64 M23.47,36.89 L23.54,33.64 L26.49,33.23 M23.47,36.89 L19.23,31.49 L14.39,27.74 M24.12,18.65 L24.01,24.83 L26.49,33.23 M22.5,18.64 L18.07,22.7 L14.39,27.74 M100.57,81.94 L106.2,96.11 L111.44,107.96 M100.57,81.94 L103.65,77.54 L107.53,75.03 M107.53,75.03 L111.83,77.81 L115.66,83.59 M115.66,83.59 L116.73,88.54 L118.48,94.6 M118.48,94.6 L114.63,99.93 L111.44,107.96 M90.58,238.24 L101.18,173.47 L111.44,107.96 M97.63,83.22 L99.85,83.95 L100.57,81.94 M108.9,68 L107.78,71.98 L107.53,75.03 M143.21,83.51 L129.26,82.69 L115.66,83.59 M171.06,90.82 L145.94,93.44 L118.48,94.6 M128.63,25.09 L133.76,19.99 L136.24,12.97 M128.63,25.09 L126.66,19.79 L122.18,16.72 M122.18,16.72 L131.07,-1.12 L142.87,-17.15 M136.24,12.97 L139.29,-1.53 L142.87,-17.15 M156.57,45.01 L146.22,29.03 L136.24,12.97 M134.8,39.33 L132.5,30.92 L128.63,25.09 M113.85,15.32 L118.55,14.67 L122.18,16.72 M145.3,-22.36 L143.33,-19.09 L142.87,-17.15 M50.18,2.82 L59.38,2.38 L67.49,2.5 M50.18,2.82 L49.89,1.64 L50.84,-1.51 M50.84,-1.51 L56.18,-4.05 L62.87,-3.78 M67.49,2.5 L64.42,-2.08 L62.87,-3.78 M36.29,-103.13 L44.5,-53.45 L50.84,-1.51 M68.22,2.94 L69.28,1.86 L67.49,2.5 M29.06,-5.38 L29.48,5.06 L31.06,15 M29.06,-5.38 L38.36,-0.27 L48.8,5.56 M48.69,7.4 L47.56,6.15 L48.8,5.56 M48.69,7.4 L39.74,10.73 L33.65,15.71 M33.65,15.71 L33.58,14.69 L31.06,15 M27.4,-8.89 L27.55,-6.6 L29.06,-5.38 M29.59,15.59 L31.47,14.68 L31.06,15 M50.18,2.82 L49.12,4.83 L48.8,5.56 M55.3,15.13 L52.87,11.61 L48.69,7.4 M51.66,33.04 L52.18,32.33 L54.62,33.54 M35.99,19.33 L35.6,18.14 L33.65,15.71 M26.49,33.23 L30.71,34 L32.56,33.08 M8.71,30.4 L8.84,28.78 L9.43,29.37 M8.71,30.4 L6.26,32.98 L1.46,34.39 M9.43,29.37 L7.56,22.35 L5.23,14.23 M5.23,14.23 L-3.57,22.89 L-11.68,32.49 M-11.68,32.49 L-4.88,33.39 L1.46,34.39 M23.47,36.89 L22.81,42.03 L20.9,44.55 M20.9,44.55 L15.85,37.14 L8.71,30.4 M14.39,27.74 L11.53,29.84 L9.43,29.37 M6.66,9.61 L5.63,12.82 L5.23,14.23 M-224.41,36.85 L-173.02,37.71 L-119.18,38.86 M-119.18,38.86 L-85.83,39.67 L-52.59,38.63 M-32.28,36.71 L-41.3,36.63 L-52.59,38.63 M-32.28,36.71 L-21.63,34.99 L-11.68,32.49 M-32.28,36.71 L-15.29,43.95 L3.78,49.19 M7.81,44.62 L5.96,48.29 L3.78,49.19 M7.81,44.62 L3.69,39.58 L1.46,34.39 M-119.18,38.86 L-61.28,51.49 L-2.33,63.27 M-2.33,63.27 L-3.93,68.73 L-6.18,74.13 M-10.99,77.71 L-9.11,75.93 L-6.18,74.13 M39.69,36.46 L33.76,46.16 L28.59,53.53 M20.9,44.55 L20.76,45.27 L20.84,46.14 M20.84,46.14 L23.99,49.09 L28.59,53.53 M7.81,44.62 L15.67,44.82 L20.81,46.14 M20.84,46.14 L21.93,46.42 L20.81,46.14 M50.42,52.8 L41.35,53.02 L29.39,55.25 M40.11,77.37 L35.49,70.19 L28.22,61.37 M29.39,55.25 L29.01,58.94 L28.22,61.37 M29.39,55.25 L29.66,54.23 L28.59,53.53 M40.11,90.48 L40.13,89.5 L39.35,90.15 M39.35,90.15 L26.74,83.37 L17.01,75.53 M17.01,75.53 L16.38,73.4 L15.9,68.82 M28.22,61.37 L21.35,66.05 L15.9,68.82 M15.23,85.45 L16.52,84.42 L14.89,81 M15.23,85.45 L12.37,91.45 L6.73,99.49 M14.89,81 L8.8,80.36 L4.71,81.35 M6.73,99.49 L3.33,91.16 L0.76,85.13 M0.76,85.13 L1.69,81.8 L4.71,81.35 M39.35,90.15 L28.59,87.39 L15.23,85.45 M17.01,75.53 L16.33,78.13 L14.89,81 M11.07,287.37 L9.63,194.35 L6.73,99.49 M-10.99,77.71 L-5.47,81.53 L0.76,85.13 M8.4,69.23 L5.35,74.65 L4.71,81.35 M8.4,69.23 L0.28,71.11 L-6.18,74.13 M10.65,55.27 L12.53,62.23 L15.47,68.73 M10.65,55.27 L6.52,54.87 L3.38,55.51 M2.3,60.48 L3.16,57.49 L2.04,57.43 M2.3,60.48 L4.16,63.27 L8.99,68.72 M8.99,68.72 L13.33,69.13 L15.47,68.73 M2.04,57.43 L3.39,57.84 L3.38,55.51 M20.81,46.14 L14.89,51.97 L10.65,55.27 M15.9,68.82 L14.91,68.83 L15.47,68.73 M3.78,49.19 L4.13,53.24 L3.38,55.51 M-2.33,63.27 L-0.77,61.81 L2.3,60.48 M-52.59,38.63 L-26.64,47.39 L2.04,57.43 M8.4,69.23 L10.14,70.19 L8.99,68.72" fill="none" stroke="#e6e6e6" stroke-width="0.4"/>
<path id="sea" d="M0,66.2 L8.5,66 L8.5,66 L10.4,67.4 L8.5,69.3 L7.6,72.2 L8,76 L9,78.9 L10.4,81.7 L12.3,83.6 L15.2,84.1 L18,82.7 L20,80.8 L19.5,78.4 L17.6,77.4 L16.1,76.5 L18.5,75 L20.9,74.1 L19.5,72.2 L20.9,70.3 L21.9,68.4 L21.4,67.4 L23.8,66.5 L27.6,65.5 L32.3,65 L39.3,64.9 L44.6,63.8 L49.9,62.7 L55.2,62.7 L58.3,59.6 L61.5,57.5 L65.7,56.4 L66.8,52.2 L67.9,47.4 L70,49 L73,49.5 L76.3,49 L79,49.5 L80.6,51.1 L82.2,51.6 L83.8,47.7 L86.1,49.3 L87.7,46.9 L90.9,46.1 L94.1,45.7 L95.7,47.3 L97.3,45.7 L101.2,45.7 L104.4,44.5 L108.4,43.7 L110.7,42.9 L111.5,40.5 L113.9,38.9 L115.1,37.3 L116.3,35 L118.7,34.2 L120.3,33.4 L122.5,31 L125.5,29.2 L131,28.5 L131,92 L0,92 Z" fill="#d6d9dc"/>
</defs>
<line x1="5.9" y1="1.3" x2="679.1" y2="1.3" stroke="#c9c9c9" stroke-width="2.8" stroke-dasharray="9.6 4.43" stroke-dashoffset="12.03"/>
<line x1="683.6" y1="5.8" x2="683.6" y2="178.5" stroke="#c9c9c9" stroke-width="2.8" stroke-dasharray="9.6 4.43" stroke-dashoffset="4.83"/>
<line x1="5.9" y1="183" x2="679.1" y2="183" stroke="#c9c9c9" stroke-width="2.8" stroke-dasharray="9.6 4.43" stroke-dashoffset="6.93"/>
<line x1="1.4" y1="5.8" x2="1.4" y2="178.5" stroke="#c9c9c9" stroke-width="2.8" stroke-dasharray="9.6 4.43" stroke-dashoffset="4.83"/>
<path d="M1.4,6.6 L1.4,5.8 A4.5,4.5 0 0 1 5.9,1.3 L6.7,1.3" fill="none" stroke="#c9c9c9" stroke-width="2.8"/><path d="M678.3,1.3 L679.1,1.3 A4.5,4.5 0 0 1 683.6,5.8 L683.6,6.6" fill="none" stroke="#c9c9c9" stroke-width="2.8"/><path d="M683.6,177.7 L683.6,178.5 A4.5,4.5 0 0 1 679.1,183 L678.3,183" fill="none" stroke="#c9c9c9" stroke-width="2.8"/><path d="M6.7,183 L5.9,183 A4.5,4.5 0 0 1 1.4,178.5 L1.4,177.7" fill="none" stroke="#c9c9c9" stroke-width="2.8"/>
<line x1="5.9" y1="195.4" x2="679.1" y2="195.4" stroke="#c9c9c9" stroke-width="2.8" stroke-dasharray="9.6 4.43" stroke-dashoffset="11.93"/>
<line x1="683.6" y1="199.9" x2="683.6" y2="372.1" stroke="#c9c9c9" stroke-width="2.8" stroke-dasharray="9.6 4.43" stroke-dashoffset="6.64"/>
<line x1="5.9" y1="376.6" x2="679.1" y2="376.6" stroke="#c9c9c9" stroke-width="2.8" stroke-dasharray="9.6 4.43" stroke-dashoffset="6.63"/>
<line x1="1.4" y1="199.9" x2="1.4" y2="372.1" stroke="#c9c9c9" stroke-width="2.8" stroke-dasharray="9.6 4.43" stroke-dashoffset="6.14"/>
<path d="M1.4,200.7 L1.4,199.9 A4.5,4.5 0 0 1 5.9,195.4 L6.7,195.4" fill="none" stroke="#c9c9c9" stroke-width="2.8"/><path d="M678.3,195.4 L679.1,195.4 A4.5,4.5 0 0 1 683.6,199.9 L683.6,200.7" fill="none" stroke="#c9c9c9" stroke-width="2.8"/><path d="M683.6,371.3 L683.6,372.1 A4.5,4.5 0 0 1 679.1,376.6 L678.3,376.6" fill="none" stroke="#c9c9c9" stroke-width="2.8"/><path d="M6.7,376.6 L5.9,376.6 A4.5,4.5 0 0 1 1.4,372.1 L1.4,371.3" fill="none" stroke="#c9c9c9" stroke-width="2.8"/>
<text textLength="15.2" lengthAdjust="spacingAndGlyphs" filter="url(#gs)" x="17.8" y="17" font-size="12.6" font-weight="bold" text-anchor="start" fill="#000" stroke="#d8d8d8" stroke-width="2.2" paint-order="stroke" stroke-linejoin="round">(a)</text><text textLength="15.2" lengthAdjust="spacingAndGlyphs" filter="url(#gs)" x="17.8" y="17" font-size="12.6" font-weight="bold" text-anchor="start" fill="#000" stroke="#000" stroke-width="0.9" stroke-linejoin="round">(a)</text>
<text textLength="16.4" lengthAdjust="spacingAndGlyphs" filter="url(#gs)" x="17.6" y="211" font-size="12.6" font-weight="bold" text-anchor="start" fill="#000" stroke="#d8d8d8" stroke-width="2.2" paint-order="stroke" stroke-linejoin="round">(b)</text><text textLength="16.4" lengthAdjust="spacingAndGlyphs" filter="url(#gs)" x="17.6" y="211" font-size="12.6" font-weight="bold" text-anchor="start" fill="#000" stroke="#000" stroke-width="0.9" stroke-linejoin="round">(b)</text>
<text textLength="124.5" lengthAdjust="spacingAndGlyphs" filter="url(#gs)" x="283" y="16.3" font-size="10.6" font-weight="bold" text-anchor="start" fill="#000" stroke="#e4e4e4" stroke-width="2" paint-order="stroke" stroke-linejoin="round">Weighted Degree Centrality</text><text textLength="124.5" lengthAdjust="spacingAndGlyphs" filter="url(#gs)" x="283" y="16.3" font-size="10.6" font-weight="bold" text-anchor="start" fill="#000" stroke="#000" stroke-width="0.45" stroke-linejoin="round">Weighted Degree Centrality</text>
<text textLength="145.2" lengthAdjust="spacingAndGlyphs" filter="url(#gs)" x="266.4" y="211.4" font-size="10.6" font-weight="bold" text-anchor="start" fill="#000" stroke="#e4e4e4" stroke-width="2" paint-order="stroke" stroke-linejoin="round">Weighted Clustering Coefficient</text><text textLength="145.2" lengthAdjust="spacingAndGlyphs" filter="url(#gs)" x="266.4" y="211.4" font-size="10.6" font-weight="bold" text-anchor="start" fill="#000" stroke="#000" stroke-width="0.45" stroke-linejoin="round">Weighted Clustering Coefficient</text>
<rect x="12" y="23.1" width="125" height="31.8" fill="none" stroke="#fff" stroke-width="2"/>
<path d="M15,55.2 L15,49 L19,49 L19,43.5 L25,43.5 L25,44.5 L26.5,44.5 L26.5,51 L27.5,51 L27.5,44.5 L29,44.5 L29,43.5 L31,43.5 L31,40 L35,40 L35,31.5 L39,31.5 L39,38.5 L41,38.5 L41,29.5 L48,29.5 L48,44.5 L51,44.5 L51,25 L55,25 L55,27 L59,27 L59,40 L63,40 L63,47 L65,47 L65,49 L69,49 L69,45.5 L76.5,45.5 L76.5,43.3 L80.5,43.3 L80.5,40.6 L87,40.6 L87,41.5 L88.5,41.5 L88.5,52.5 L90.5,52.5 L90.5,55.2 Z" fill="#8a9eb6"/>
<path d="M15,55.2 L15,49 L19,49 L19,43.5 L25,43.5 L25,44.5 L26.5,44.5 L26.5,51 L27.5,51 L27.5,44.5 L29,44.5 L29,43.5 L31,43.5 L31,40 L35,40 L35,31.5 L39,31.5 L39,38.5 L41,38.5 L41,29.5 L48,29.5 L48,44.5 L51,44.5 L51,25 L55,25 L55,27 L59,27 L59,40 L63,40 L63,47 L65,47 L65,49 L69,49 L69,45.5 L76.5,45.5 L76.5,43.3 L80.5,43.3 L80.5,40.6 L87,40.6 L87,41.5 L88.5,41.5 L88.5,52.5 L90.5,52.5 L90.5,55.2" fill="none" stroke="#fff" stroke-width="1.5" stroke-linejoin="miter"/>
<path d="M92,55.2 L92,47 L99.6,47 L99.6,49 L101.6,49 L101.6,52 L106,52 L106,55.2 Z" fill="#8a9eb6"/>
<path d="M92,55.2 L92,47 L99.6,47 L99.6,49 L101.6,49 L101.6,52 L106,52 L106,55.2" fill="none" stroke="#fff" stroke-width="1.5" stroke-linejoin="miter"/>
<path d="M108,55.2 L108,52.3 L117,52.3 L117,55.2 Z" fill="#8a9eb6"/>
<path d="M108,55.2 L108,52.3 L117,52.3 L117,55.2" fill="none" stroke="#fff" stroke-width="1.5" stroke-linejoin="miter"/>
<path d="M126,55.2 L126,52 L133,52 L133,55.2 Z" fill="#8a9eb6"/>
<path d="M126,55.2 L126,52 L133,52 L133,55.2" fill="none" stroke="#fff" stroke-width="1.5" stroke-linejoin="miter"/>
<rect x="146" y="23.1" width="125.2" height="31.8" fill="none" stroke="#fff" stroke-width="2"/>
<path d="M149,55.2 L149,52.7 L152,52.7 L152,55.2 Z" fill="#77c2a7"/>
<path d="M149,55.2 L149,52.7 L152,52.7 L152,55.2" fill="none" stroke="#fff" stroke-width="1.5" stroke-linejoin="miter"/>
<path d="M153,55.2 L153,47.6 L156,47.6 L156,49 L159.6,49 L159.6,43 L162.6,43 L162.6,40.6 L169,40.6 L169,35.6 L173,35.6 L173,33.6 L176,33.6 L176,31.6 L181,31.6 L181,25 L186,25 L186,36 L193,36 L193,37.6 L195,37.6 L195,40 L198,40 L198,46.6 L201,46.6 L201,44.6 L204,44.6 L204,42.6 L208,42.6 L208,41 L217,41 L217,49.6 L224,49.6 L224,55.2 Z" fill="#77c2a7"/>
<path d="M153,55.2 L153,47.6 L156,47.6 L156,49 L159.6,49 L159.6,43 L162.6,43 L162.6,40.6 L169,40.6 L169,35.6 L173,35.6 L173,33.6 L176,33.6 L176,31.6 L181,31.6 L181,25 L186,25 L186,36 L193,36 L193,37.6 L195,37.6 L195,40 L198,40 L198,46.6 L201,46.6 L201,44.6 L204,44.6 L204,42.6 L208,42.6 L208,41 L217,41 L217,49.6 L224,49.6 L224,55.2" fill="none" stroke="#fff" stroke-width="1.5" stroke-linejoin="miter"/>
<path d="M227,55.2 L227,50 L231,50 L231,52.7 L239,52.7 L239,55.2 Z" fill="#77c2a7"/>
<path d="M227,55.2 L227,50 L231,50 L231,52.7 L239,52.7 L239,55.2" fill="none" stroke="#fff" stroke-width="1.5" stroke-linejoin="miter"/>
<path d="M242,55.2 L242,53 L247,53 L247,55.2 Z" fill="#77c2a7"/>
<path d="M242,55.2 L242,53 L247,53 L247,55.2" fill="none" stroke="#fff" stroke-width="1.5" stroke-linejoin="miter"/>
<path d="M261,55.2 L261,52.7 L267,52.7 L267,55.2 Z" fill="#77c2a7"/>
<path d="M261,55.2 L261,52.7 L267,52.7 L267,55.2" fill="none" stroke="#fff" stroke-width="1.5" stroke-linejoin="miter"/>
<rect x="277.3" y="23.1" width="125.1" height="31.8" fill="none" stroke="#fff" stroke-width="2"/>
<path d="M281,55.2 L281,52.7 L287.5,52.7 L287.5,55.2 Z" fill="#a9d08f"/>
<path d="M281,55.2 L281,52.7 L287.5,52.7 L287.5,55.2" fill="none" stroke="#fff" stroke-width="1.5" stroke-linejoin="miter"/>
<path d="M292,55.2 L292,51.7 L294,51.7 L294,49.6 L299,49.6 L299,53 L301.6,53 L301.6,45.6 L306,45.6 L306,47 L310,47 L310,44.6 L313,44.6 L313,38.6 L319,38.6 L319,40 L322,40 L322,42 L324,42 L324,35.6 L328,35.6 L328,24.5 L333,24.5 L333,34.6 L336,34.6 L336,30 L342.5,30 L342.5,34.6 L345.5,34.6 L345.5,45.6 L351,45.6 L351,42.6 L356.6,42.6 L356.6,48 L362.6,48 L362.6,47 L365.6,47 L365.6,49.6 L375,49.6 L375,52 L378,52 L378,49.6 L383,49.6 L383,55.2 Z" fill="#a9d08f"/>
<path d="M292,55.2 L292,51.7 L294,51.7 L294,49.6 L299,49.6 L299,53 L301.6,53 L301.6,45.6 L306,45.6 L306,47 L310,47 L310,44.6 L313,44.6 L313,38.6 L319,38.6 L319,40 L322,40 L322,42 L324,42 L324,35.6 L328,35.6 L328,24.5 L333,24.5 L333,34.6 L336,34.6 L336,30 L342.5,30 L342.5,34.6 L345.5,34.6 L345.5,45.6 L351,45.6 L351,42.6 L356.6,42.6 L356.6,48 L362.6,48 L362.6,47 L365.6,47 L365.6,49.6 L375,49.6 L375,52 L378,52 L378,49.6 L383,49.6 L383,55.2" fill="none" stroke="#fff" stroke-width="1.5" stroke-linejoin="miter"/>
<path d="M391,55.2 L391,52.7 L400,52.7 L400,55.2 Z" fill="#a9d08f"/>
<path d="M391,55.2 L391,52.7 L400,52.7 L400,55.2" fill="none" stroke="#fff" stroke-width="1.5" stroke-linejoin="miter"/>
<rect x="412.5" y="23.1" width="125.3" height="31.8" fill="none" stroke="#fff" stroke-width="2"/>
<path d="M416,55.2 L416,43.6 L425,43.6 L425,39 L433,39 L433,31 L438,31 L438,41 L440,41 L440,26.5 L445,26.5 L445,30.5 L449,30.5 L449,39 L452,39 L452,24.5 L456,24.5 L456,43.6 L471,43.6 L471,45.6 L477,45.6 L477,49.6 L480,49.6 L480,51.7 L485.6,51.7 L485.6,47.6 L495,47.6 L495,52 L498,52 L498,52.7 L506,52.7 L506,55.2 Z" fill="#fa7b80"/>
<path d="M416,55.2 L416,43.6 L425,43.6 L425,39 L433,39 L433,31 L438,31 L438,41 L440,41 L440,26.5 L445,26.5 L445,30.5 L449,30.5 L449,39 L452,39 L452,24.5 L456,24.5 L456,43.6 L471,43.6 L471,45.6 L477,45.6 L477,49.6 L480,49.6 L480,51.7 L485.6,51.7 L485.6,47.6 L495,47.6 L495,52 L498,52 L498,52.7 L506,52.7 L506,55.2" fill="none" stroke="#fff" stroke-width="1.5" stroke-linejoin="miter"/>
<path d="M509,55.2 L509,52.7 L515,52.7 L515,55.2 Z" fill="#fa7b80"/>
<path d="M509,55.2 L509,52.7 L515,52.7 L515,55.2" fill="none" stroke="#fff" stroke-width="1.5" stroke-linejoin="miter"/>
<path d="M526,55.2 L526,52.7 L534,52.7 L534,55.2 Z" fill="#fa7b80"/>
<path d="M526,55.2 L526,52.7 L534,52.7 L534,55.2" fill="none" stroke="#fff" stroke-width="1.5" stroke-linejoin="miter"/>
<rect x="546.3" y="23.1" width="125.4" height="31.8" fill="none" stroke="#fff" stroke-width="2"/>
<path d="M549.5,55.2 L549.5,53 L556,53 L556,55.2 Z" fill="#f8d17d"/>
<path d="M549.5,55.2 L549.5,53 L556,53 L556,55.2" fill="none" stroke="#fff" stroke-width="1.5" stroke-linejoin="miter"/>
<path d="M565,55.2 L565,53 L573,53 L573,55.2 Z" fill="#f8d17d"/>
<path d="M565,55.2 L565,53 L573,53 L573,55.2" fill="none" stroke="#fff" stroke-width="1.5" stroke-linejoin="miter"/>
<path d="M576,55.2 L576,52.7 L581,52.7 L581,49.6 L585,49.6 L585,43.6 L590,43.6 L590,46.6 L593,46.6 L593,44 L598,44 L598,24.5 L602,24.5 L602,45 L604,45 L604,41 L611.5,41 L611.5,47.6 L614,47.6 L614,51 L616.5,51 L616.5,49 L627,49 L627,48.6 L632,48.6 L632,52.7 L636,52.7 L636,50.6 L640,50.6 L640,55.2 Z" fill="#f8d17d"/>
<path d="M576,55.2 L576,52.7 L581,52.7 L581,49.6 L585,49.6 L585,43.6 L590,43.6 L590,46.6 L593,46.6 L593,44 L598,44 L598,24.5 L602,24.5 L602,45 L604,45 L604,41 L611.5,41 L611.5,47.6 L614,47.6 L614,51 L616.5,51 L616.5,49 L627,49 L627,48.6 L632,48.6 L632,52.7 L636,52.7 L636,50.6 L640,50.6 L640,55.2" fill="none" stroke="#fff" stroke-width="1.5" stroke-linejoin="miter"/>
<path d="M642,55.2 L642,50 L647,50 L647,52.7 L656,52.7 L656,55.2 Z" fill="#f8d17d"/>
<path d="M642,55.2 L642,50 L647,50 L647,52.7 L656,52.7 L656,55.2" fill="none" stroke="#fff" stroke-width="1.5" stroke-linejoin="miter"/>
<path d="M660,55.2 L660,52.7 L668,52.7 L668,55.2 Z" fill="#f8d17d"/>
<path d="M660,55.2 L660,52.7 L668,52.7 L668,55.2" fill="none" stroke="#fff" stroke-width="1.5" stroke-linejoin="miter"/>
<rect x="12.2" y="218.9" width="126" height="32" fill="none" stroke="#e6e6e6" stroke-width="1.4"/>
<path d="M16.4,251.2 L16.4,241 L18,241 L18,241.5 L23.2,241.5 L23.2,245.7 L26,245.7 L26,243 L28.5,243 L28.5,240.4 L40.7,240.4 L40.7,234.6 L44,234.6 L44,226.6 L55.5,226.6 L55.5,234.6 L63.5,234.6 L63.5,224.5 L67,224.5 L67,219.8 L72.5,219.8 L72.5,234 L75,234 L75,219.8 L80.5,219.8 L80.5,235 L82.5,235 L82.5,224.5 L83.5,224.5 L83.5,225 L89.4,225 L89.4,234 L93.6,234 L93.6,226.6 L99.4,226.6 L99.4,240.4 L104.7,240.4 L104.7,235.6 L111,235.6 L111,246.2 L118,246.2 L118,251.2 Z" fill="#8a9eb6"/>
<path d="M16.4,251.2 L16.4,241 L18,241 L18,241.5 L23.2,241.5 L23.2,245.7 L26,245.7 L26,243 L28.5,243 L28.5,240.4 L40.7,240.4 L40.7,234.6 L44,234.6 L44,226.6 L55.5,226.6 L55.5,234.6 L63.5,234.6 L63.5,224.5 L67,224.5 L67,219.8 L72.5,219.8 L72.5,234 L75,234 L75,219.8 L80.5,219.8 L80.5,235 L82.5,235 L82.5,224.5 L83.5,224.5 L83.5,225 L89.4,225 L89.4,234 L93.6,234 L93.6,226.6 L99.4,226.6 L99.4,240.4 L104.7,240.4 L104.7,235.6 L111,235.6 L111,246.2 L118,246.2 L118,251.2" fill="none" stroke="#fff" stroke-width="1.5" stroke-linejoin="miter"/>
<path d="M120.6,251.2 L120.6,242.5 L124.8,242.5 L124.8,245 L129,245 L129,245.7 L135,245.7 L135,251.2 Z" fill="#8a9eb6"/>
<path d="M120.6,251.2 L120.6,242.5 L124.8,242.5 L124.8,245 L129,245 L129,245.7 L135,245.7 L135,251.2" fill="none" stroke="#fff" stroke-width="1.5" stroke-linejoin="miter"/>
<rect x="145.3" y="218.9" width="125.6" height="32" fill="none" stroke="#e6e6e6" stroke-width="1.4"/>
<path d="M148.3,251.2 L148.3,245.7 L153.6,245.7 L153.6,235.6 L157.8,235.6 L157.8,232 L164,232 L164,243.6 L165.8,243.6 L165.8,234.6 L172.6,234.6 L172.6,224.5 L178,224.5 L178,234.6 L180.6,234.6 L180.6,225 L185.3,225 L185.3,231 L190.6,231 L190.6,221.9 L197,221.9 L197,240.4 L199,240.4 L199,219.8 L204.4,219.8 L204.4,226 L208,226 L208,221.4 L212.3,221.4 L212.3,231.4 L216.5,231.4 L216.5,241 L221.3,241 L221.3,243.6 L223,243.6 L223,221.4 L228,221.4 L228,234.6 L232.4,234.6 L232.4,240.4 L236,240.4 L236,251.2 Z" fill="#77c2a7"/>
<path d="M148.3,251.2 L148.3,245.7 L153.6,245.7 L153.6,235.6 L157.8,235.6 L157.8,232 L164,232 L164,243.6 L165.8,243.6 L165.8,234.6 L172.6,234.6 L172.6,224.5 L178,224.5 L178,234.6 L180.6,234.6 L180.6,225 L185.3,225 L185.3,231 L190.6,231 L190.6,221.9 L197,221.9 L197,240.4 L199,240.4 L199,219.8 L204.4,219.8 L204.4,226 L208,226 L208,221.4 L212.3,221.4 L212.3,231.4 L216.5,231.4 L216.5,241 L221.3,241 L221.3,243.6 L223,243.6 L223,221.4 L228,221.4 L228,234.6 L232.4,234.6 L232.4,240.4 L236,240.4 L236,251.2" fill="none" stroke="#fff" stroke-width="1.5" stroke-linejoin="miter"/>
<path d="M238.2,251.2 L238.2,245.7 L250.4,245.7 L250.4,251.2 Z" fill="#77c2a7"/>
<path d="M238.2,251.2 L238.2,245.7 L250.4,245.7 L250.4,251.2" fill="none" stroke="#fff" stroke-width="1.5" stroke-linejoin="miter"/>
<path d="M253.6,251.2 L253.6,247.3 L258.9,247.3 L258.9,251.2 Z" fill="#77c2a7"/>
<path d="M253.6,251.2 L253.6,247.3 L258.9,247.3 L258.9,251.2" fill="none" stroke="#fff" stroke-width="1.5" stroke-linejoin="miter"/>
<path d="M261.5,251.2 L261.5,246.8 L266.3,246.8 L266.3,251.2 Z" fill="#77c2a7"/>
<path d="M261.5,251.2 L261.5,246.8 L266.3,246.8 L266.3,251.2" fill="none" stroke="#fff" stroke-width="1.5" stroke-linejoin="miter"/>
<rect x="277.7" y="218.9" width="124.6" height="32" fill="none" stroke="#e6e6e6" stroke-width="1.4"/>
<path d="M281.4,251.2 L281.4,242.5 L288.2,242.5 L288.2,251.2 Z" fill="#a9d08f"/>
<path d="M281.4,251.2 L281.4,242.5 L288.2,242.5 L288.2,251.2" fill="none" stroke="#fff" stroke-width="1.5" stroke-linejoin="miter"/>
<path d="M290.4,251.2 L290.4,243 L296.7,243 L296.7,246.8 L301.5,246.8 L301.5,235.6 L306.8,235.6 L306.8,237.8 L312,237.8 L312,229.8 L318.4,229.8 L318.4,244.6 L319.5,244.6 L319.5,224.5 L324.8,224.5 L324.8,219.8 L329,219.8 L329,244 L332.7,244 L332.7,231.4 L336,231.4 L336,221.9 L342.2,221.9 L342.2,225 L347,225 L347,219.8 L352.8,219.8 L352.8,236.2 L360.2,236.2 L360.2,243.6 L362.3,243.6 L362.3,236.2 L370.8,236.2 L370.8,251.2 Z" fill="#a9d08f"/>
<path d="M290.4,251.2 L290.4,243 L296.7,243 L296.7,246.8 L301.5,246.8 L301.5,235.6 L306.8,235.6 L306.8,237.8 L312,237.8 L312,229.8 L318.4,229.8 L318.4,244.6 L319.5,244.6 L319.5,224.5 L324.8,224.5 L324.8,219.8 L329,219.8 L329,244 L332.7,244 L332.7,231.4 L336,231.4 L336,221.9 L342.2,221.9 L342.2,225 L347,225 L347,219.8 L352.8,219.8 L352.8,236.2 L360.2,236.2 L360.2,243.6 L362.3,243.6 L362.3,236.2 L370.8,236.2 L370.8,251.2" fill="none" stroke="#fff" stroke-width="1.5" stroke-linejoin="miter"/>
<path d="M374,251.2 L374,241 L379.2,241 L379.2,246.2 L382.4,246.2 L382.4,243.6 L387.7,243.6 L387.7,247.3 L389.8,247.3 L389.8,247.8 L398.3,247.8 L398.3,251.2 Z" fill="#a9d08f"/>
<path d="M374,251.2 L374,241 L379.2,241 L379.2,246.2 L382.4,246.2 L382.4,243.6 L387.7,243.6 L387.7,247.3 L389.8,247.3 L389.8,247.8 L398.3,247.8 L398.3,251.2" fill="none" stroke="#fff" stroke-width="1.5" stroke-linejoin="miter"/>
<rect x="411.7" y="218.9" width="125.4" height="32" fill="none" stroke="#e6e6e6" stroke-width="1.4"/>
<path d="M415,251.2 L415,241.5 L420.6,241.5 L420.6,239.3 L426,239.3 L426,245.2 L428.6,245.2 L428.6,229.8 L433.9,229.8 L433.9,243 L435.5,243 L435.5,236.7 L440.8,236.7 L440.8,239.3 L444,239.3 L444,234.6 L447,234.6 L447,225 L451.9,225 L451.9,219.8 L456,219.8 L456,232 L460.9,232 L460.9,234.6 L464.6,234.6 L464.6,243 L466.7,243 L466.7,239.3 L470.4,239.3 L470.4,226.6 L476.7,226.6 L476.7,241.5 L483.6,241.5 L483.6,247.3 L486.8,247.3 L486.8,248.5 L489,248.5 L489,241.5 L498.4,241.5 L498.4,245.7 L504.8,245.7 L504.8,241 L510.6,241 L510.6,251.2 Z" fill="#fa7b80"/>
<path d="M415,251.2 L415,241.5 L420.6,241.5 L420.6,239.3 L426,239.3 L426,245.2 L428.6,245.2 L428.6,229.8 L433.9,229.8 L433.9,243 L435.5,243 L435.5,236.7 L440.8,236.7 L440.8,239.3 L444,239.3 L444,234.6 L447,234.6 L447,225 L451.9,225 L451.9,219.8 L456,219.8 L456,232 L460.9,232 L460.9,234.6 L464.6,234.6 L464.6,243 L466.7,243 L466.7,239.3 L470.4,239.3 L470.4,226.6 L476.7,226.6 L476.7,241.5 L483.6,241.5 L483.6,247.3 L486.8,247.3 L486.8,248.5 L489,248.5 L489,241.5 L498.4,241.5 L498.4,245.7 L504.8,245.7 L504.8,241 L510.6,241 L510.6,251.2" fill="none" stroke="#fff" stroke-width="1.5" stroke-linejoin="miter"/>
<path d="M518,251.2 L518,247.8 L524.9,247.8 L524.9,248.5 L527.5,248.5 L527.5,247.8 L534.4,247.8 L534.4,251.2 Z" fill="#fa7b80"/>
<path d="M518,251.2 L518,247.8 L524.9,247.8 L524.9,248.5 L527.5,248.5 L527.5,247.8 L534.4,247.8 L534.4,251.2" fill="none" stroke="#fff" stroke-width="1.5" stroke-linejoin="miter"/>
<rect x="546.9" y="218.9" width="124.2" height="32" fill="none" stroke="#e6e6e6" stroke-width="1.4"/>
<path d="M549.5,251.2 L549.5,245.7 L558.9,245.7 L558.9,243 L562,243 L562,241 L566.8,241 L566.8,232 L571.6,232 L571.6,237.2 L575.8,237.2 L575.8,246.8 L578,246.8 L578,232 L581.6,232 L581.6,225 L586.4,225 L586.4,223 L594.9,223 L594.9,225.6 L598,225.6 L598,219.8 L602.3,219.8 L602.3,225 L606.5,225 L606.5,229.8 L609,229.8 L609,227.2 L614.4,227.2 L614.4,234.6 L619.7,234.6 L619.7,232 L626,232 L626,237.2 L630.8,237.2 L630.8,241 L640.9,241 L640.9,243.6 L647.8,243.6 L647.8,246.2 L651.5,246.2 L651.5,251.2 Z" fill="#f8d17d"/>
<path d="M549.5,251.2 L549.5,245.7 L558.9,245.7 L558.9,243 L562,243 L562,241 L566.8,241 L566.8,232 L571.6,232 L571.6,237.2 L575.8,237.2 L575.8,246.8 L578,246.8 L578,232 L581.6,232 L581.6,225 L586.4,225 L586.4,223 L594.9,223 L594.9,225.6 L598,225.6 L598,219.8 L602.3,219.8 L602.3,225 L606.5,225 L606.5,229.8 L609,229.8 L609,227.2 L614.4,227.2 L614.4,234.6 L619.7,234.6 L619.7,232 L626,232 L626,237.2 L630.8,237.2 L630.8,241 L640.9,241 L640.9,243.6 L647.8,243.6 L647.8,246.2 L651.5,246.2 L651.5,251.2" fill="none" stroke="#fff" stroke-width="1.5" stroke-linejoin="miter"/>
<path d="M654.6,251.2 L654.6,247.8 L660,247.8 L660,251.2 Z" fill="#f8d17d"/>
<path d="M654.6,251.2 L654.6,247.8 L660,247.8 L660,251.2" fill="none" stroke="#fff" stroke-width="1.5" stroke-linejoin="miter"/>
<path d="M662,251.2 L662,247.8 L668,247.8 L668,251.2 Z" fill="#f8d17d"/>
<path d="M662,251.2 L662,247.8 L668,247.8 L668,251.2" fill="none" stroke="#fff" stroke-width="1.5" stroke-linejoin="miter"/>
<rect x="198.9" y="219.6" width="0.9" height="22.6" fill="#19e6f0"/>
<g transform="translate(11,64)">
<clipPath id="ca1"><rect x="0" y="0" width="129.6" height="89.5"/></clipPath>
<g clip-path="url(#ca1)">
<rect x="0" y="0" width="129.6" height="89.5" fill="#f9f9f9"/>
<use href="#basel"/>
<use href="#sea"/>
<path d="M69.5,52.5 L71,50.6 L74,50.2 L77.5,51 L80.2,52.3 L80.6,54.2 L78,55.8 L74,56.6 L71,55.8 Z" fill="#eceef0"/>
<g fill="#b8c2d8" opacity="0.55"><rect x="7.5" y="8.8" width="6.6" height="0.9"/><rect x="21.2" y="35.4" width="7" height="0.9"/><rect x="9" y="47.4" width="5" height="0.8"/><rect x="113.6" y="10.3" width="6.4" height="0.9"/><rect x="119" y="35.4" width="5.6" height="0.9"/></g>
<g stroke="#1a1a10" stroke-opacity="0.32" stroke-width="0.45">
<use href="#k0" fill="#f2f7c7"/>
<use href="#k1" fill="#f2f7c7"/>
<use href="#k2" fill="#f2f7c7"/>
<use href="#k3" fill="#f2f7c7"/>
<use href="#k4" fill="#f2f7c7"/>
<use href="#k5" fill="#acda89"/>
<use href="#k6" fill="#da4b52"/>
<use href="#k7" fill="#f4a679"/>
<use href="#k8" fill="#acda89"/>
<use href="#k9" fill="#acda89"/>
<use href="#k10" fill="#fcd6a2"/>
<use href="#k11" fill="#acda89"/>
<use href="#k12" fill="#f2f7c7"/>
<use href="#k13" fill="#f4a679"/>
<use href="#k14" fill="#acda89"/>
<use href="#k15" fill="#f2f7c7"/>
<use href="#k16" fill="#acda89"/>
<use href="#k17" fill="#da4b52"/>
<use href="#k18" fill="#acda89"/>
<use href="#k19" fill="#da4b52"/>
<use href="#k20" fill="#fcd6a2"/>
<use href="#k21" fill="#f2f7c7"/>
<use href="#k22" fill="#fcd6a2"/>
<use href="#k23" fill="#da4b52"/>
<use href="#k24" fill="#da4b52"/>
<use href="#k25" fill="#f2f7c7"/>
<use href="#k26" fill="#fcd6a2"/>
<use href="#k27" fill="#f2f7c7"/>
<use href="#k28" fill="#f4a679"/>
<use href="#k29" fill="#acda89"/>
<use href="#k30" fill="#f2f7c7"/>
<use href="#k31" fill="#f2f7c7"/>
<use href="#k32" fill="#f2f7c7"/>
<use href="#k33" fill="#fcd6a2"/>
<use href="#k34" fill="#fcd6a2"/>
<use href="#k35" fill="#f2f7c7"/>
<use href="#k36" fill="#f4a679"/>
<use href="#k37" fill="#f4a679"/>
<use href="#k38" fill="#da4b52"/>
<use href="#k39" fill="#da4b52"/>
<use href="#k40" fill="#acda89"/>
<use href="#k41" fill="#acda89"/>
<use href="#k42" fill="#f4a679"/>
<use href="#k43" fill="#f2f7c7"/>
<use href="#k44" fill="#fcd6a2"/>
<use href="#k45" fill="#da4b52"/>
<use href="#k46" fill="#f4a679"/>
<use href="#k47" fill="#f2f7c7"/>
<use href="#k48" fill="#da4b52"/>
<use href="#k49" fill="#fcd6a2"/>
<use href="#k50" fill="#fcd6a2"/>
<use href="#k51" fill="#fcd6a2"/>
<use href="#k52" fill="#acda89"/>
<use href="#k53" fill="#f2f7c7"/>
<use href="#k54" fill="#da4b52"/>
<use href="#k55" fill="#f2f7c7"/>
<use href="#k56" fill="#fcd6a2"/>
<use href="#k57" fill="#fcd6a2"/>
<use href="#k58" fill="#acda89"/>
<use href="#k59" fill="#da4b52"/>
<use href="#k60" fill="#da4b52"/>
<use href="#k61" fill="#fcd6a2"/>
<use href="#k62" fill="#fcd6a2"/>
<use href="#k63" fill="#da4b52"/>
<use href="#k64" fill="#acda89"/>
<use href="#k65" fill="#f2f7c7"/>
<use href="#k66" fill="#f4a679"/>
<use href="#k67" fill="#f2f7c7"/>
<use href="#k68" fill="#fcd6a2"/>
<use href="#k69" fill="#da4b52"/>
<use href="#k70" fill="#da4b52"/>
<use href="#k71" fill="#f4a679"/>
<use href="#k72" fill="#f2f7c7"/>
<use href="#k73" fill="#fcd6a2"/>
<use href="#k74" fill="#da4b52"/>
<use href="#k75" fill="#f4a679"/>
<use href="#k76" fill="#da4b52"/>
<use href="#k77" fill="#da4b52"/>
<use href="#k78" fill="#f4a679"/>
<use href="#k79" fill="#da4b52"/>
<use href="#k80" fill="#da4b52"/>
<use href="#k81" fill="#acda89"/>
<use href="#k82" fill="#f2f7c7"/>
<use href="#k83" fill="#f2f7c7"/>
<use href="#k84" fill="#f4a679"/>
<use href="#k85" fill="#acda89"/>
<use href="#k86" fill="#f2f7c7"/>
<use href="#k87" fill="#fcd6a2"/>
<use href="#k88" fill="#f4a679"/>
<use href="#k89" fill="#da4b52"/>
<use href="#k90" fill="#da4b52"/>
<use href="#k91" fill="#acda89"/>
<use href="#k92" fill="#f4a679"/>
<use href="#k93" fill="#f2f7c7"/>
<use href="#k94" fill="#da4b52"/>
<use href="#k95" fill="#f2f7c7"/>
<use href="#k96" fill="#f2f7c7"/>
<use href="#k97" fill="#f4a679"/>
<use href="#k98" fill="#f2f7c7"/>
<use href="#k99" fill="#da4b52"/>
<use href="#k100" fill="#da4b52"/>
<use href="#k101" fill="#acda89"/>
<use href="#k102" fill="#acda89"/>
</g>
</g>
<rect x="0.4" y="0.4" width="128.8" height="88.7" fill="none" stroke="#fff" stroke-width="0.8" opacity="0.8"/>
<text filter="url(#gs)" x="124.5" y="83.8" font-size="8.65" text-anchor="end" fill="#1a1a1a">Ground Truth</text>
</g>
<g transform="translate(143.9,64)">
<clipPath id="ca2"><rect x="0" y="0" width="128.9" height="89.5"/></clipPath>
<g clip-path="url(#ca2)">
<rect x="0" y="0" width="128.9" height="89.5" fill="#f9f9f9"/>
<use href="#basel"/>
<use href="#sea"/>
<path d="M69.5,52.5 L71,50.6 L74,50.2 L77.5,51 L80.2,52.3 L80.6,54.2 L78,55.8 L74,56.6 L71,55.8 Z" fill="#eceef0"/>
<g fill="#b8c2d8" opacity="0.55"><rect x="7.5" y="8.8" width="6.6" height="0.9"/><rect x="21.2" y="35.4" width="7" height="0.9"/><rect x="9" y="47.4" width="5" height="0.8"/><rect x="113.6" y="10.3" width="6.4" height="0.9"/><rect x="119" y="35.4" width="5.6" height="0.9"/></g>
<g stroke="#1a1a10" stroke-opacity="0.32" stroke-width="0.45">
<use href="#k0" fill="#f2f7c7"/>
<use href="#k1" fill="#f2f7c7"/>
<use href="#k2" fill="#f2f7c7"/>
<use href="#k3" fill="#f2f7c7"/>
<use href="#k4" fill="#da4b52"/>
<use href="#k5" fill="#acda89"/>
<use href="#k6" fill="#da4b52"/>
<use href="#k7" fill="#f4a679"/>
<use href="#k8" fill="#acda89"/>
<use href="#k9" fill="#acda89"/>
<use href="#k10" fill="#f2f7c7"/>
<use href="#k11" fill="#acda89"/>
<use href="#k12" fill="#fcd6a2"/>
<use href="#k13" fill="#f4a679"/>
<use href="#k14" fill="#acda89"/>
<use href="#k15" fill="#f2f7c7"/>
<use href="#k16" fill="#f2f7c7"/>
<use href="#k17" fill="#da4b52"/>
<use href="#k18" fill="#f2f7c7"/>
<use href="#k19" fill="#f2f7c7"/>
<use href="#k20" fill="#f4a679"/>
<use href="#k21" fill="#f2f7c7"/>
<use href="#k22" fill="#f2f7c7"/>
<use href="#k23" fill="#da4b52"/>
<use href="#k24" fill="#da4b52"/>
<use href="#k25" fill="#acda89"/>
<use href="#k26" fill="#fcd6a2"/>
<use href="#k27" fill="#f2f7c7"/>
<use href="#k28" fill="#f4a679"/>
<use href="#k29" fill="#acda89"/>
<use href="#k30" fill="#f2f7c7"/>
<use href="#k31" fill="#f2f7c7"/>
<use href="#k32" fill="#f2f7c7"/>
<use href="#k33" fill="#acda89"/>
<use href="#k34" fill="#f2f7c7"/>
<use href="#k35" fill="#fcd6a2"/>
<use href="#k36" fill="#f4a679"/>
<use href="#k37" fill="#f4a679"/>
<use href="#k38" fill="#da4b52"/>
<use href="#k39" fill="#da4b52"/>
<use href="#k40" fill="#acda89"/>
<use href="#k41" fill="#acda89"/>
<use href="#k42" fill="#f2f7c7"/>
<use href="#k43" fill="#f2f7c7"/>
<use href="#k44" fill="#f4a679"/>
<use href="#k45" fill="#da4b52"/>
<use href="#k46" fill="#f4a679"/>
<use href="#k47" fill="#f2f7c7"/>
<use href="#k48" fill="#da4b52"/>
<use href="#k49" fill="#f2f7c7"/>
<use href="#k50" fill="#f2f7c7"/>
<use href="#k51" fill="#fcd6a2"/>
<use href="#k52" fill="#acda89"/>
<use href="#k53" fill="#f2f7c7"/>
<use href="#k54" fill="#da4b52"/>
<use href="#k55" fill="#da4b52"/>
<use href="#k56" fill="#f4a679"/>
<use href="#k57" fill="#da4b52"/>
<use href="#k58" fill="#acda89"/>
<use href="#k59" fill="#f2f7c7"/>
<use href="#k60" fill="#da4b52"/>
<use href="#k61" fill="#f2f7c7"/>
<use href="#k62" fill="#acda89"/>
<use href="#k63" fill="#da4b52"/>
<use href="#k64" fill="#acda89"/>
<use href="#k65" fill="#fcd6a2"/>
<use href="#k66" fill="#f4a679"/>
<use href="#k67" fill="#f2f7c7"/>
<use href="#k68" fill="#f2f7c7"/>
<use href="#k69" fill="#fcd6a2"/>
<use href="#k70" fill="#da4b52"/>
<use href="#k71" fill="#f4a679"/>
<use href="#k72" fill="#acda89"/>
<use href="#k73" fill="#f2f7c7"/>
<use href="#k74" fill="#da4b52"/>
<use href="#k75" fill="#f4a679"/>
<use href="#k76" fill="#fcd6a2"/>
<use href="#k77" fill="#da4b52"/>
<use href="#k78" fill="#f2f7c7"/>
<use href="#k79" fill="#da4b52"/>
<use href="#k80" fill="#da4b52"/>
<use href="#k81" fill="#acda89"/>
<use href="#k82" fill="#f2f7c7"/>
<use href="#k83" fill="#acda89"/>
<use href="#k84" fill="#f4a679"/>
<use href="#k85" fill="#acda89"/>
<use href="#k86" fill="#f2f7c7"/>
<use href="#k87" fill="#f2f7c7"/>
<use href="#k88" fill="#f4a679"/>
<use href="#k89" fill="#da4b52"/>
<use href="#k90" fill="#f2f7c7"/>
<use href="#k91" fill="#acda89"/>
<use href="#k92" fill="#f4a679"/>
<use href="#k93" fill="#f2f7c7"/>
<use href="#k94" fill="#f2f7c7"/>
<use href="#k95" fill="#fcd6a2"/>
<use href="#k96" fill="#fcd6a2"/>
<use href="#k97" fill="#f4a679"/>
<use href="#k98" fill="#f2f7c7"/>
<use href="#k99" fill="#f4a679"/>
<use href="#k100" fill="#da4b52"/>
<use href="#k101" fill="#acda89"/>
<use href="#k102" fill="#f2f7c7"/>
</g>
</g>
<rect x="0.4" y="0.4" width="128.1" height="88.7" fill="none" stroke="#fff" stroke-width="0.8" opacity="0.8"/>
<text filter="url(#gs)" x="124.4" y="83.8" font-size="8.65" text-anchor="end" fill="#1a1a1a">GD(MV)</text>
<text class="sf" filter="url(#gs)" x="8.3" y="12.9" font-size="10.6" fill="#2a2a2a">R<tspan font-size="6.6" dy="-3.5">2</tspan><tspan dy="3.5">=0.96</tspan></text>
</g>
<g transform="translate(277.1,64)">
<clipPath id="ca3"><rect x="0" y="0" width="129.7" height="89.5"/></clipPath>
<g clip-path="url(#ca3)">
<rect x="0" y="0" width="129.7" height="89.5" fill="#f9f9f9"/>
<use href="#basel"/>
<use href="#sea"/>
<path d="M69.5,52.5 L71,50.6 L74,50.2 L77.5,51 L80.2,52.3 L80.6,54.2 L78,55.8 L74,56.6 L71,55.8 Z" fill="#eceef0"/>
<g fill="#b8c2d8" opacity="0.55"><rect x="7.5" y="8.8" width="6.6" height="0.9"/><rect x="21.2" y="35.4" width="7" height="0.9"/><rect x="9" y="47.4" width="5" height="0.8"/><rect x="113.6" y="10.3" width="6.4" height="0.9"/><rect x="119" y="35.4" width="5.6" height="0.9"/></g>
<g stroke="#1a1a10" stroke-opacity="0.32" stroke-width="0.45">
<use href="#k0" fill="#f2f7c7"/>
<use href="#k1" fill="#fcd6a2"/>
<use href="#k2" fill="#fcd6a2"/>
<use href="#k3" fill="#f2f7c7"/>
<use href="#k4" fill="#da4b52"/>
<use href="#k5" fill="#acda89"/>
<use href="#k6" fill="#da4b52"/>
<use href="#k7" fill="#f4a679"/>
<use href="#k8" fill="#f2f7c7"/>
<use href="#k9" fill="#acda89"/>
<use href="#k10" fill="#f2f7c7"/>
<use href="#k11" fill="#acda89"/>
<use href="#k12" fill="#f2f7c7"/>
<use href="#k13" fill="#f4a679"/>
<use href="#k14" fill="#fcd6a2"/>
<use href="#k15" fill="#f2f7c7"/>
<use href="#k16" fill="#acda89"/>
<use href="#k17" fill="#da4b52"/>
<use href="#k18" fill="#f2f7c7"/>
<use href="#k19" fill="#da4b52"/>
<use href="#k20" fill="#f4a679"/>
<use href="#k21" fill="#fcd6a2"/>
<use href="#k22" fill="#f2f7c7"/>
<use href="#k23" fill="#da4b52"/>
<use href="#k24" fill="#f2f7c7"/>
<use href="#k25" fill="#f2f7c7"/>
<use href="#k26" fill="#fcd6a2"/>
<use href="#k27" fill="#fcd6a2"/>
<use href="#k28" fill="#fcd6a2"/>
<use href="#k29" fill="#acda89"/>
<use href="#k30" fill="#fcd6a2"/>
<use href="#k31" fill="#f2f7c7"/>
<use href="#k32" fill="#fcd6a2"/>
<use href="#k33" fill="#acda89"/>
<use href="#k34" fill="#da4b52"/>
<use href="#k35" fill="#f2f7c7"/>
<use href="#k36" fill="#da4b52"/>
<use href="#k37" fill="#f2f7c7"/>
<use href="#k38" fill="#f4a679"/>
<use href="#k39" fill="#da4b52"/>
<use href="#k40" fill="#acda89"/>
<use href="#k41" fill="#f2f7c7"/>
<use href="#k42" fill="#fcd6a2"/>
<use href="#k43" fill="#f2f7c7"/>
<use href="#k44" fill="#fcd6a2"/>
<use href="#k45" fill="#da4b52"/>
<use href="#k46" fill="#da4b52"/>
<use href="#k47" fill="#acda89"/>
<use href="#k48" fill="#da4b52"/>
<use href="#k49" fill="#f2f7c7"/>
<use href="#k50" fill="#fcd6a2"/>
<use href="#k51" fill="#fcd6a2"/>
<use href="#k52" fill="#acda89"/>
<use href="#k53" fill="#f2f7c7"/>
<use href="#k54" fill="#f2f7c7"/>
<use href="#k55" fill="#da4b52"/>
<use href="#k56" fill="#f2f7c7"/>
<use href="#k57" fill="#da4b52"/>
<use href="#k58" fill="#acda89"/>
<use href="#k59" fill="#da4b52"/>
<use href="#k60" fill="#da4b52"/>
<use href="#k61" fill="#fcd6a2"/>
<use href="#k62" fill="#acda89"/>
<use href="#k63" fill="#da4b52"/>
<use href="#k64" fill="#acda89"/>
<use href="#k65" fill="#f2f7c7"/>
<use href="#k66" fill="#da4b52"/>
<use href="#k67" fill="#f2f7c7"/>
<use href="#k68" fill="#f4a679"/>
<use href="#k69" fill="#f4a679"/>
<use href="#k70" fill="#da4b52"/>
<use href="#k71" fill="#f4a679"/>
<use href="#k72" fill="#f2f7c7"/>
<use href="#k73" fill="#f4a679"/>
<use href="#k74" fill="#da4b52"/>
<use href="#k75" fill="#f4a679"/>
<use href="#k76" fill="#da4b52"/>
<use href="#k77" fill="#da4b52"/>
<use href="#k78" fill="#f2f7c7"/>
<use href="#k79" fill="#da4b52"/>
<use href="#k80" fill="#da4b52"/>
<use href="#k81" fill="#f2f7c7"/>
<use href="#k82" fill="#da4b52"/>
<use href="#k83" fill="#f2f7c7"/>
<use href="#k84" fill="#f4a679"/>
<use href="#k85" fill="#acda89"/>
<use href="#k86" fill="#fcd6a2"/>
<use href="#k87" fill="#f2f7c7"/>
<use href="#k88" fill="#f4a679"/>
<use href="#k89" fill="#da4b52"/>
<use href="#k90" fill="#da4b52"/>
<use href="#k91" fill="#f2f7c7"/>
<use href="#k92" fill="#da4b52"/>
<use href="#k93" fill="#f2f7c7"/>
<use href="#k94" fill="#f4a679"/>
<use href="#k95" fill="#f2f7c7"/>
<use href="#k96" fill="#f2f7c7"/>
<use href="#k97" fill="#fcd6a2"/>
<use href="#k98" fill="#fcd6a2"/>
<use href="#k99" fill="#f4a679"/>
<use href="#k100" fill="#da4b52"/>
<use href="#k101" fill="#f2f7c7"/>
<use href="#k102" fill="#fcd6a2"/>
</g>
</g>
<rect x="0.4" y="0.4" width="128.9" height="88.7" fill="none" stroke="#fff" stroke-width="0.8" opacity="0.8"/>
<text filter="url(#gs)" x="123.3" y="83.8" font-size="8.65" text-anchor="end" fill="#1a1a1a">Areal-weighted</text>
<text class="sf" filter="url(#gs)" x="8.7" y="12.5" font-size="10.6" fill="#2a2a2a">R<tspan font-size="6.6" dy="-3.5">2</tspan><tspan dy="3.5">=0.91</tspan></text>
</g>
<g transform="translate(411.9,64)">
<clipPath id="ca4"><rect x="0" y="0" width="128.9" height="89.5"/></clipPath>
<g clip-path="url(#ca4)">
<rect x="0" y="0" width="128.9" height="89.5" fill="#f9f9f9"/>
<use href="#basel"/>
<use href="#sea"/>
<path d="M69.5,52.5 L71,50.6 L74,50.2 L77.5,51 L80.2,52.3 L80.6,54.2 L78,55.8 L74,56.6 L71,55.8 Z" fill="#eceef0"/>
<g fill="#b8c2d8" opacity="0.55"><rect x="7.5" y="8.8" width="6.6" height="0.9"/><rect x="21.2" y="35.4" width="7" height="0.9"/><rect x="9" y="47.4" width="5" height="0.8"/><rect x="113.6" y="10.3" width="6.4" height="0.9"/><rect x="119" y="35.4" width="5.6" height="0.9"/></g>
<g stroke="#1a1a10" stroke-opacity="0.32" stroke-width="0.45">
<use href="#k0" fill="#f2f7c7"/>
<use href="#k1" fill="#f4a679"/>
<use href="#k2" fill="#f2f7c7"/>
<use href="#k3" fill="#f2f7c7"/>
<use href="#k4" fill="#da4b52"/>
<use href="#k5" fill="#acda89"/>
<use href="#k6" fill="#da4b52"/>
<use href="#k7" fill="#fcd6a2"/>
<use href="#k8" fill="#acda89"/>
<use href="#k9" fill="#acda89"/>
<use href="#k10" fill="#f2f7c7"/>
<use href="#k11" fill="#acda89"/>
<use href="#k12" fill="#f2f7c7"/>
<use href="#k13" fill="#fcd6a2"/>
<use href="#k14" fill="#acda89"/>
<use href="#k15" fill="#f2f7c7"/>
<use href="#k16" fill="#acda89"/>
<use href="#k17" fill="#da4b52"/>
<use href="#k18" fill="#acda89"/>
<use href="#k19" fill="#f4a679"/>
<use href="#k20" fill="#f4a679"/>
<use href="#k21" fill="#fcd6a2"/>
<use href="#k22" fill="#f2f7c7"/>
<use href="#k23" fill="#da4b52"/>
<use href="#k24" fill="#da4b52"/>
<use href="#k25" fill="#f2f7c7"/>
<use href="#k26" fill="#fcd6a2"/>
<use href="#k27" fill="#fcd6a2"/>
<use href="#k28" fill="#f4a679"/>
<use href="#k29" fill="#acda89"/>
<use href="#k30" fill="#f2f7c7"/>
<use href="#k31" fill="#f2f7c7"/>
<use href="#k32" fill="#f2f7c7"/>
<use href="#k33" fill="#acda89"/>
<use href="#k34" fill="#f2f7c7"/>
<use href="#k35" fill="#f2f7c7"/>
<use href="#k36" fill="#f4a679"/>
<use href="#k37" fill="#f4a679"/>
<use href="#k38" fill="#f4a679"/>
<use href="#k39" fill="#da4b52"/>
<use href="#k40" fill="#acda89"/>
<use href="#k41" fill="#acda89"/>
<use href="#k42" fill="#f2f7c7"/>
<use href="#k43" fill="#f2f7c7"/>
<use href="#k44" fill="#fcd6a2"/>
<use href="#k45" fill="#da4b52"/>
<use href="#k46" fill="#f4a679"/>
<use href="#k47" fill="#f2f7c7"/>
<use href="#k48" fill="#da4b52"/>
<use href="#k49" fill="#f2f7c7"/>
<use href="#k50" fill="#f2f7c7"/>
<use href="#k51" fill="#fcd6a2"/>
<use href="#k52" fill="#acda89"/>
<use href="#k53" fill="#f2f7c7"/>
<use href="#k54" fill="#da4b52"/>
<use href="#k55" fill="#da4b52"/>
<use href="#k56" fill="#f2f7c7"/>
<use href="#k57" fill="#da4b52"/>
<use href="#k58" fill="#acda89"/>
<use href="#k59" fill="#f4a679"/>
<use href="#k60" fill="#da4b52"/>
<use href="#k61" fill="#f2f7c7"/>
<use href="#k62" fill="#acda89"/>
<use href="#k63" fill="#da4b52"/>
<use href="#k64" fill="#acda89"/>
<use href="#k65" fill="#acda89"/>
<use href="#k66" fill="#f4a679"/>
<use href="#k67" fill="#f4a679"/>
<use href="#k68" fill="#f2f7c7"/>
<use href="#k69" fill="#f4a679"/>
<use href="#k70" fill="#da4b52"/>
<use href="#k71" fill="#fcd6a2"/>
<use href="#k72" fill="#acda89"/>
<use href="#k73" fill="#f2f7c7"/>
<use href="#k74" fill="#da4b52"/>
<use href="#k75" fill="#f4a679"/>
<use href="#k76" fill="#da4b52"/>
<use href="#k77" fill="#da4b52"/>
<use href="#k78" fill="#fcd6a2"/>
<use href="#k79" fill="#da4b52"/>
<use href="#k80" fill="#da4b52"/>
<use href="#k81" fill="#f2f7c7"/>
<use href="#k82" fill="#da4b52"/>
<use href="#k83" fill="#f2f7c7"/>
<use href="#k84" fill="#fcd6a2"/>
<use href="#k85" fill="#acda89"/>
<use href="#k86" fill="#f2f7c7"/>
<use href="#k87" fill="#f2f7c7"/>
<use href="#k88" fill="#fcd6a2"/>
<use href="#k89" fill="#da4b52"/>
<use href="#k90" fill="#da4b52"/>
<use href="#k91" fill="#acda89"/>
<use href="#k92" fill="#f4a679"/>
<use href="#k93" fill="#f2f7c7"/>
<use href="#k94" fill="#f4a679"/>
<use href="#k95" fill="#f2f7c7"/>
<use href="#k96" fill="#f2f7c7"/>
<use href="#k97" fill="#f4a679"/>
<use href="#k98" fill="#f2f7c7"/>
<use href="#k99" fill="#f4a679"/>
<use href="#k100" fill="#da4b52"/>
<use href="#k101" fill="#acda89"/>
<use href="#k102" fill="#f2f7c7"/>
</g>
</g>
<rect x="0.4" y="0.4" width="128.1" height="88.7" fill="none" stroke="#fff" stroke-width="0.8" opacity="0.8"/>
<text filter="url(#gs)" x="120.6" y="83.8" font-size="8.65" text-anchor="end" fill="#1a1a1a">XGBoost</text>
<text class="sf" filter="url(#gs)" x="10" y="12.6" font-size="10.6" fill="#2a2a2a">R<tspan font-size="6.6" dy="-3.5">2</tspan><tspan dy="3.5">=0.87</tspan></text>
</g>
<g transform="translate(545.9,64)">
<clipPath id="ca5"><rect x="0" y="0" width="128.9" height="89.5"/></clipPath>
<g clip-path="url(#ca5)">
<rect x="0" y="0" width="128.9" height="89.5" fill="#f9f9f9"/>
<use href="#basel"/>
<use href="#sea"/>
<path d="M69.5,52.5 L71,50.6 L74,50.2 L77.5,51 L80.2,52.3 L80.6,54.2 L78,55.8 L74,56.6 L71,55.8 Z" fill="#eceef0"/>
<g fill="#b8c2d8" opacity="0.55"><rect x="7.5" y="8.8" width="6.6" height="0.9"/><rect x="21.2" y="35.4" width="7" height="0.9"/><rect x="9" y="47.4" width="5" height="0.8"/><rect x="113.6" y="10.3" width="6.4" height="0.9"/><rect x="119" y="35.4" width="5.6" height="0.9"/></g>
<g stroke="#1a1a10" stroke-opacity="0.32" stroke-width="0.45">
<use href="#k0" fill="#f2f7c7"/>
<use href="#k1" fill="#fcd6a2"/>
<use href="#k2" fill="#fcd6a2"/>
<use href="#k3" fill="#f2f7c7"/>
<use href="#k4" fill="#da4b52"/>
<use href="#k5" fill="#f2f7c7"/>
<use href="#k6" fill="#da4b52"/>
<use href="#k7" fill="#fcd6a2"/>
<use href="#k8" fill="#f2f7c7"/>
<use href="#k9" fill="#acda89"/>
<use href="#k10" fill="#f4a679"/>
<use href="#k11" fill="#fcd6a2"/>
<use href="#k12" fill="#f4a679"/>
<use href="#k13" fill="#fcd6a2"/>
<use href="#k14" fill="#fcd6a2"/>
<use href="#k15" fill="#f2f7c7"/>
<use href="#k16" fill="#f2f7c7"/>
<use href="#k17" fill="#f4a679"/>
<use href="#k18" fill="#f2f7c7"/>
<use href="#k19" fill="#da4b52"/>
<use href="#k20" fill="#f4a679"/>
<use href="#k21" fill="#fcd6a2"/>
<use href="#k22" fill="#fcd6a2"/>
<use href="#k23" fill="#da4b52"/>
<use href="#k24" fill="#da4b52"/>
<use href="#k25" fill="#f2f7c7"/>
<use href="#k26" fill="#fcd6a2"/>
<use href="#k27" fill="#fcd6a2"/>
<use href="#k28" fill="#f4a679"/>
<use href="#k29" fill="#f2f7c7"/>
<use href="#k30" fill="#f2f7c7"/>
<use href="#k31" fill="#fcd6a2"/>
<use href="#k32" fill="#f4a679"/>
<use href="#k33" fill="#f2f7c7"/>
<use href="#k34" fill="#f2f7c7"/>
<use href="#k35" fill="#fcd6a2"/>
<use href="#k36" fill="#da4b52"/>
<use href="#k37" fill="#fcd6a2"/>
<use href="#k38" fill="#f4a679"/>
<use href="#k39" fill="#da4b52"/>
<use href="#k40" fill="#acda89"/>
<use href="#k41" fill="#fcd6a2"/>
<use href="#k42" fill="#f2f7c7"/>
<use href="#k43" fill="#fcd6a2"/>
<use href="#k44" fill="#fcd6a2"/>
<use href="#k45" fill="#da4b52"/>
<use href="#k46" fill="#da4b52"/>
<use href="#k47" fill="#acda89"/>
<use href="#k48" fill="#da4b52"/>
<use href="#k49" fill="#f2f7c7"/>
<use href="#k50" fill="#f4a679"/>
<use href="#k51" fill="#fcd6a2"/>
<use href="#k52" fill="#acda89"/>
<use href="#k53" fill="#f2f7c7"/>
<use href="#k54" fill="#da4b52"/>
<use href="#k55" fill="#da4b52"/>
<use href="#k56" fill="#fcd6a2"/>
<use href="#k57" fill="#da4b52"/>
<use href="#k58" fill="#acda89"/>
<use href="#k59" fill="#da4b52"/>
<use href="#k60" fill="#da4b52"/>
<use href="#k61" fill="#fcd6a2"/>
<use href="#k62" fill="#f2f7c7"/>
<use href="#k63" fill="#da4b52"/>
<use href="#k64" fill="#f2f7c7"/>
<use href="#k65" fill="#f2f7c7"/>
<use href="#k66" fill="#da4b52"/>
<use href="#k67" fill="#f4a679"/>
<use href="#k68" fill="#f4a679"/>
<use href="#k69" fill="#f4a679"/>
<use href="#k70" fill="#da4b52"/>
<use href="#k71" fill="#fcd6a2"/>
<use href="#k72" fill="#fcd6a2"/>
<use href="#k73" fill="#da4b52"/>
<use href="#k74" fill="#da4b52"/>
<use href="#k75" fill="#f4a679"/>
<use href="#k76" fill="#f4a679"/>
<use href="#k77" fill="#da4b52"/>
<use href="#k78" fill="#f2f7c7"/>
<use href="#k79" fill="#da4b52"/>
<use href="#k80" fill="#da4b52"/>
<use href="#k81" fill="#fcd6a2"/>
<use href="#k82" fill="#f2f7c7"/>
<use href="#k83" fill="#f2f7c7"/>
<use href="#k84" fill="#f4a679"/>
<use href="#k85" fill="#f2f7c7"/>
<use href="#k86" fill="#fcd6a2"/>
<use href="#k87" fill="#f2f7c7"/>
<use href="#k88" fill="#f4a679"/>
<use href="#k89" fill="#da4b52"/>
<use href="#k90" fill="#f4a679"/>
<use href="#k91" fill="#f2f7c7"/>
<use href="#k92" fill="#da4b52"/>
<use href="#k93" fill="#f2f7c7"/>
<use href="#k94" fill="#f4a679"/>
<use href="#k95" fill="#f4a679"/>
<use href="#k96" fill="#acda89"/>
<use href="#k97" fill="#f4a679"/>
<use href="#k98" fill="#fcd6a2"/>
<use href="#k99" fill="#f4a679"/>
<use href="#k100" fill="#da4b52"/>
<use href="#k101" fill="#fcd6a2"/>
<use href="#k102" fill="#f2f7c7"/>
</g>
</g>
<rect x="0.4" y="0.4" width="128.1" height="88.7" fill="none" stroke="#fff" stroke-width="0.8" opacity="0.8"/>
<text filter="url(#gs)" x="123.2" y="83.8" font-size="8.65" text-anchor="end" fill="#1a1a1a">DNN</text>
<text class="sf" filter="url(#gs)" x="9" y="12.8" font-size="10.6" fill="#2a2a2a">R<tspan font-size="6.6" dy="-3.5">2</tspan><tspan dy="3.5">=0.77</tspan></text>
</g>
<g transform="translate(10.2,257)">
<clipPath id="cb1"><rect x="0" y="0" width="129" height="90.3"/></clipPath>
<g clip-path="url(#cb1)">
<rect x="0" y="0" width="129" height="90.3" fill="#f9f9f9"/>
<use href="#basel"/>
<use href="#sea"/>
<path d="M69.5,52.5 L71,50.6 L74,50.2 L77.5,51 L80.2,52.3 L80.6,54.2 L78,55.8 L74,56.6 L71,55.8 Z" fill="#eceef0"/>
<g fill="#b8c2d8" opacity="0.55"><rect x="7.5" y="8.8" width="6.6" height="0.9"/><rect x="21.2" y="35.4" width="7" height="0.9"/><rect x="9" y="47.4" width="5" height="0.8"/><rect x="113.6" y="10.3" width="6.4" height="0.9"/><rect x="119" y="35.4" width="5.6" height="0.9"/></g>
<g stroke="#1a1a10" stroke-opacity="0.32" stroke-width="0.45">
<use href="#k0" fill="#f2f7c7"/>
<use href="#k1" fill="#f2f7c7"/>
<use href="#k2" fill="#f2f7c7"/>
<use href="#k3" fill="#f2f7c7"/>
<use href="#k4" fill="#f2f7c7"/>
<use href="#k5" fill="#acda89"/>
<use href="#k6" fill="#da4b52"/>
<use href="#k7" fill="#f4a679"/>
<use href="#k8" fill="#acda89"/>
<use href="#k9" fill="#acda89"/>
<use href="#k10" fill="#fcd6a2"/>
<use href="#k11" fill="#acda89"/>
<use href="#k12" fill="#f2f7c7"/>
<use href="#k13" fill="#f4a679"/>
<use href="#k14" fill="#acda89"/>
<use href="#k15" fill="#f2f7c7"/>
<use href="#k16" fill="#acda89"/>
<use href="#k17" fill="#da4b52"/>
<use href="#k18" fill="#acda89"/>
<use href="#k19" fill="#da4b52"/>
<use href="#k20" fill="#fcd6a2"/>
<use href="#k21" fill="#f2f7c7"/>
<use href="#k22" fill="#fcd6a2"/>
<use href="#k23" fill="#da4b52"/>
<use href="#k24" fill="#da4b52"/>
<use href="#k25" fill="#f2f7c7"/>
<use href="#k26" fill="#fcd6a2"/>
<use href="#k27" fill="#f2f7c7"/>
<use href="#k28" fill="#f4a679"/>
<use href="#k29" fill="#acda89"/>
<use href="#k30" fill="#f2f7c7"/>
<use href="#k31" fill="#f2f7c7"/>
<use href="#k32" fill="#f2f7c7"/>
<use href="#k33" fill="#fcd6a2"/>
<use href="#k34" fill="#fcd6a2"/>
<use href="#k35" fill="#f2f7c7"/>
<use href="#k36" fill="#f4a679"/>
<use href="#k37" fill="#f4a679"/>
<use href="#k38" fill="#da4b52"/>
<use href="#k39" fill="#da4b52"/>
<use href="#k40" fill="#acda89"/>
<use href="#k41" fill="#acda89"/>
<use href="#k42" fill="#f4a679"/>
<use href="#k43" fill="#f2f7c7"/>
<use href="#k44" fill="#fcd6a2"/>
<use href="#k45" fill="#da4b52"/>
<use href="#k46" fill="#f4a679"/>
<use href="#k47" fill="#f2f7c7"/>
<use href="#k48" fill="#da4b52"/>
<use href="#k49" fill="#fcd6a2"/>
<use href="#k50" fill="#fcd6a2"/>
<use href="#k51" fill="#fcd6a2"/>
<use href="#k52" fill="#acda89"/>
<use href="#k53" fill="#f2f7c7"/>
<use href="#k54" fill="#da4b52"/>
<use href="#k55" fill="#f2f7c7"/>
<use href="#k56" fill="#fcd6a2"/>
<use href="#k57" fill="#fcd6a2"/>
<use href="#k58" fill="#acda89"/>
<use href="#k59" fill="#da4b52"/>
<use href="#k60" fill="#da4b52"/>
<use href="#k61" fill="#fcd6a2"/>
<use href="#k62" fill="#fcd6a2"/>
<use href="#k63" fill="#da4b52"/>
<use href="#k64" fill="#acda89"/>
<use href="#k65" fill="#f2f7c7"/>
<use href="#k66" fill="#f4a679"/>
<use href="#k67" fill="#f2f7c7"/>
<use href="#k68" fill="#fcd6a2"/>
<use href="#k69" fill="#da4b52"/>
<use href="#k70" fill="#da4b52"/>
<use href="#k71" fill="#f4a679"/>
<use href="#k72" fill="#f2f7c7"/>
<use href="#k73" fill="#fcd6a2"/>
<use href="#k74" fill="#da4b52"/>
<use href="#k75" fill="#f4a679"/>
<use href="#k76" fill="#da4b52"/>
<use href="#k77" fill="#da4b52"/>
<use href="#k78" fill="#f4a679"/>
<use href="#k79" fill="#da4b52"/>
<use href="#k80" fill="#da4b52"/>
<use href="#k81" fill="#acda89"/>
<use href="#k82" fill="#f2f7c7"/>
<use href="#k83" fill="#f2f7c7"/>
<use href="#k84" fill="#f4a679"/>
<use href="#k85" fill="#acda89"/>
<use href="#k86" fill="#f2f7c7"/>
<use href="#k87" fill="#fcd6a2"/>
<use href="#k88" fill="#f4a679"/>
<use href="#k89" fill="#da4b52"/>
<use href="#k90" fill="#da4b52"/>
<use href="#k91" fill="#acda89"/>
<use href="#k92" fill="#f4a679"/>
<use href="#k93" fill="#f2f7c7"/>
<use href="#k94" fill="#da4b52"/>
<use href="#k95" fill="#f2f7c7"/>
<use href="#k96" fill="#f2f7c7"/>
<use href="#k97" fill="#f4a679"/>
<use href="#k98" fill="#f2f7c7"/>
<use href="#k99" fill="#da4b52"/>
<use href="#k100" fill="#da4b52"/>
<use href="#k101" fill="#acda89"/>
<use href="#k102" fill="#acda89"/>
</g>
</g>
<rect x="0.4" y="0.4" width="128.2" height="89.5" fill="none" stroke="#fff" stroke-width="0.8" opacity="0.8"/>
<text filter="url(#gs)" x="125.1" y="84.8" font-size="8.65" text-anchor="end" fill="#1a1a1a">Ground Truth</text>
</g>
<g transform="translate(144,257)">
<clipPath id="cb2"><rect x="0" y="0" width="128.8" height="90.3"/></clipPath>
<g clip-path="url(#cb2)">
<rect x="0" y="0" width="128.8" height="90.3" fill="#f9f9f9"/>
<use href="#basel"/>
<use href="#sea"/>
<path d="M69.5,52.5 L71,50.6 L74,50.2 L77.5,51 L80.2,52.3 L80.6,54.2 L78,55.8 L74,56.6 L71,55.8 Z" fill="#eceef0"/>
<g fill="#b8c2d8" opacity="0.55"><rect x="7.5" y="8.8" width="6.6" height="0.9"/><rect x="21.2" y="35.4" width="7" height="0.9"/><rect x="9" y="47.4" width="5" height="0.8"/><rect x="113.6" y="10.3" width="6.4" height="0.9"/><rect x="119" y="35.4" width="5.6" height="0.9"/></g>
<g stroke="#1a1a10" stroke-opacity="0.32" stroke-width="0.45">
<use href="#k0" fill="#f2f7c7"/>
<use href="#k1" fill="#f2f7c7"/>
<use href="#k2" fill="#fcd6a2"/>
<use href="#k3" fill="#f2f7c7"/>
<use href="#k4" fill="#da4b52"/>
<use href="#k5" fill="#acda89"/>
<use href="#k6" fill="#da4b52"/>
<use href="#k7" fill="#da4b52"/>
<use href="#k8" fill="#acda89"/>
<use href="#k9" fill="#acda89"/>
<use href="#k10" fill="#f4a679"/>
<use href="#k11" fill="#f2f7c7"/>
<use href="#k12" fill="#f4a679"/>
<use href="#k13" fill="#da4b52"/>
<use href="#k14" fill="#f2f7c7"/>
<use href="#k15" fill="#f2f7c7"/>
<use href="#k16" fill="#acda89"/>
<use href="#k17" fill="#da4b52"/>
<use href="#k18" fill="#fcd6a2"/>
<use href="#k19" fill="#da4b52"/>
<use href="#k20" fill="#f2f7c7"/>
<use href="#k21" fill="#f4a679"/>
<use href="#k22" fill="#f4a679"/>
<use href="#k23" fill="#da4b52"/>
<use href="#k24" fill="#da4b52"/>
<use href="#k25" fill="#acda89"/>
<use href="#k26" fill="#f4a679"/>
<use href="#k27" fill="#f4a679"/>
<use href="#k28" fill="#fcd6a2"/>
<use href="#k29" fill="#acda89"/>
<use href="#k30" fill="#fcd6a2"/>
<use href="#k31" fill="#f2f7c7"/>
<use href="#k32" fill="#fcd6a2"/>
<use href="#k33" fill="#acda89"/>
<use href="#k34" fill="#f2f7c7"/>
<use href="#k35" fill="#f4a679"/>
<use href="#k36" fill="#f4a679"/>
<use href="#k37" fill="#f2f7c7"/>
<use href="#k38" fill="#fcd6a2"/>
<use href="#k39" fill="#da4b52"/>
<use href="#k40" fill="#acda89"/>
<use href="#k41" fill="#acda89"/>
<use href="#k42" fill="#f2f7c7"/>
<use href="#k43" fill="#fcd6a2"/>
<use href="#k44" fill="#f4a679"/>
<use href="#k45" fill="#da4b52"/>
<use href="#k46" fill="#f4a679"/>
<use href="#k47" fill="#f2f7c7"/>
<use href="#k48" fill="#da4b52"/>
<use href="#k49" fill="#f2f7c7"/>
<use href="#k50" fill="#f2f7c7"/>
<use href="#k51" fill="#f4a679"/>
<use href="#k52" fill="#acda89"/>
<use href="#k53" fill="#f2f7c7"/>
<use href="#k54" fill="#da4b52"/>
<use href="#k55" fill="#da4b52"/>
<use href="#k56" fill="#f4a679"/>
<use href="#k57" fill="#da4b52"/>
<use href="#k58" fill="#acda89"/>
<use href="#k59" fill="#da4b52"/>
<use href="#k60" fill="#da4b52"/>
<use href="#k61" fill="#fcd6a2"/>
<use href="#k62" fill="#acda89"/>
<use href="#k63" fill="#da4b52"/>
<use href="#k64" fill="#acda89"/>
<use href="#k65" fill="#f4a679"/>
<use href="#k66" fill="#f4a679"/>
<use href="#k67" fill="#f4a679"/>
<use href="#k68" fill="#f2f7c7"/>
<use href="#k69" fill="#fcd6a2"/>
<use href="#k70" fill="#da4b52"/>
<use href="#k71" fill="#da4b52"/>
<use href="#k72" fill="#acda89"/>
<use href="#k73" fill="#fcd6a2"/>
<use href="#k74" fill="#da4b52"/>
<use href="#k75" fill="#f4a679"/>
<use href="#k76" fill="#f2f7c7"/>
<use href="#k77" fill="#da4b52"/>
<use href="#k78" fill="#f2f7c7"/>
<use href="#k79" fill="#da4b52"/>
<use href="#k80" fill="#da4b52"/>
<use href="#k81" fill="#f2f7c7"/>
<use href="#k82" fill="#da4b52"/>
<use href="#k83" fill="#acda89"/>
<use href="#k84" fill="#da4b52"/>
<use href="#k85" fill="#acda89"/>
<use href="#k86" fill="#fcd6a2"/>
<use href="#k87" fill="#f4a679"/>
<use href="#k88" fill="#da4b52"/>
<use href="#k89" fill="#da4b52"/>
<use href="#k90" fill="#da4b52"/>
<use href="#k91" fill="#acda89"/>
<use href="#k92" fill="#f4a679"/>
<use href="#k93" fill="#f2f7c7"/>
<use href="#k94" fill="#fcd6a2"/>
<use href="#k95" fill="#fcd6a2"/>
<use href="#k96" fill="#f4a679"/>
<use href="#k97" fill="#fcd6a2"/>
<use href="#k98" fill="#f2f7c7"/>
<use href="#k99" fill="#f4a679"/>
<use href="#k100" fill="#da4b52"/>
<use href="#k101" fill="#acda89"/>
<use href="#k102" fill="#f4a679"/>
</g>
</g>
<rect x="0.4" y="0.4" width="128" height="89.5" fill="none" stroke="#fff" stroke-width="0.8" opacity="0.8"/>
<text filter="url(#gs)" x="124.5" y="84.8" font-size="8.65" text-anchor="end" fill="#1a1a1a">GD(MV)</text>
<text class="sf" filter="url(#gs)" x="6.1" y="14.8" font-size="10.6" fill="#2a2a2a">R<tspan font-size="6.6" dy="-3.5">2</tspan><tspan dy="3.5">=0.80</tspan></text>
</g>
<g transform="translate(276,257)">
<clipPath id="cb3"><rect x="0" y="0" width="129.3" height="90.3"/></clipPath>
<g clip-path="url(#cb3)">
<rect x="0" y="0" width="129.3" height="90.3" fill="#f9f9f9"/>
<use href="#basel"/>
<use href="#sea"/>
<path d="M69.5,52.5 L71,50.6 L74,50.2 L77.5,51 L80.2,52.3 L80.6,54.2 L78,55.8 L74,56.6 L71,55.8 Z" fill="#eceef0"/>
<g fill="#b8c2d8" opacity="0.55"><rect x="7.5" y="8.8" width="6.6" height="0.9"/><rect x="21.2" y="35.4" width="7" height="0.9"/><rect x="9" y="47.4" width="5" height="0.8"/><rect x="113.6" y="10.3" width="6.4" height="0.9"/><rect x="119" y="35.4" width="5.6" height="0.9"/></g>
<g stroke="#1a1a10" stroke-opacity="0.32" stroke-width="0.45">
<use href="#k0" fill="#fcd6a2"/>
<use href="#k1" fill="#f4a679"/>
<use href="#k2" fill="#f2f7c7"/>
<use href="#k3" fill="#fcd6a2"/>
<use href="#k4" fill="#da4b52"/>
<use href="#k5" fill="#acda89"/>
<use href="#k6" fill="#da4b52"/>
<use href="#k7" fill="#f4a679"/>
<use href="#k8" fill="#f4a679"/>
<use href="#k9" fill="#f2f7c7"/>
<use href="#k10" fill="#f2f7c7"/>
<use href="#k11" fill="#f4a679"/>
<use href="#k12" fill="#f4a679"/>
<use href="#k13" fill="#f4a679"/>
<use href="#k14" fill="#fcd6a2"/>
<use href="#k15" fill="#f4a679"/>
<use href="#k16" fill="#fcd6a2"/>
<use href="#k17" fill="#da4b52"/>
<use href="#k18" fill="#f2f7c7"/>
<use href="#k19" fill="#da4b52"/>
<use href="#k20" fill="#da4b52"/>
<use href="#k21" fill="#da4b52"/>
<use href="#k22" fill="#f4a679"/>
<use href="#k23" fill="#da4b52"/>
<use href="#k24" fill="#da4b52"/>
<use href="#k25" fill="#f2f7c7"/>
<use href="#k26" fill="#da4b52"/>
<use href="#k27" fill="#da4b52"/>
<use href="#k28" fill="#f4a679"/>
<use href="#k29" fill="#f2f7c7"/>
<use href="#k30" fill="#f4a679"/>
<use href="#k31" fill="#f4a679"/>
<use href="#k32" fill="#da4b52"/>
<use href="#k33" fill="#f4a679"/>
<use href="#k34" fill="#f4a679"/>
<use href="#k35" fill="#fcd6a2"/>
<use href="#k36" fill="#da4b52"/>
<use href="#k37" fill="#da4b52"/>
<use href="#k38" fill="#f4a679"/>
<use href="#k39" fill="#da4b52"/>
<use href="#k40" fill="#f2f7c7"/>
<use href="#k41" fill="#f2f7c7"/>
<use href="#k42" fill="#f4a679"/>
<use href="#k43" fill="#f4a679"/>
<use href="#k44" fill="#fcd6a2"/>
<use href="#k45" fill="#da4b52"/>
<use href="#k46" fill="#da4b52"/>
<use href="#k47" fill="#f4a679"/>
<use href="#k48" fill="#da4b52"/>
<use href="#k49" fill="#f4a679"/>
<use href="#k50" fill="#da4b52"/>
<use href="#k51" fill="#f4a679"/>
<use href="#k52" fill="#f2f7c7"/>
<use href="#k53" fill="#f4a679"/>
<use href="#k54" fill="#da4b52"/>
<use href="#k55" fill="#da4b52"/>
<use href="#k56" fill="#da4b52"/>
<use href="#k57" fill="#da4b52"/>
<use href="#k58" fill="#f2f7c7"/>
<use href="#k59" fill="#da4b52"/>
<use href="#k60" fill="#da4b52"/>
<use href="#k61" fill="#f4a679"/>
<use href="#k62" fill="#f4a679"/>
<use href="#k63" fill="#da4b52"/>
<use href="#k64" fill="#fcd6a2"/>
<use href="#k65" fill="#f4a679"/>
<use href="#k66" fill="#da4b52"/>
<use href="#k67" fill="#da4b52"/>
<use href="#k68" fill="#f4a679"/>
<use href="#k69" fill="#f4a679"/>
<use href="#k70" fill="#da4b52"/>
<use href="#k71" fill="#f4a679"/>
<use href="#k72" fill="#f2f7c7"/>
<use href="#k73" fill="#da4b52"/>
<use href="#k74" fill="#da4b52"/>
<use href="#k75" fill="#f4a679"/>
<use href="#k76" fill="#da4b52"/>
<use href="#k77" fill="#da4b52"/>
<use href="#k78" fill="#da4b52"/>
<use href="#k79" fill="#da4b52"/>
<use href="#k80" fill="#da4b52"/>
<use href="#k81" fill="#f2f7c7"/>
<use href="#k82" fill="#da4b52"/>
<use href="#k83" fill="#f4a679"/>
<use href="#k84" fill="#da4b52"/>
<use href="#k85" fill="#acda89"/>
<use href="#k86" fill="#f2f7c7"/>
<use href="#k87" fill="#da4b52"/>
<use href="#k88" fill="#da4b52"/>
<use href="#k89" fill="#da4b52"/>
<use href="#k90" fill="#da4b52"/>
<use href="#k91" fill="#f2f7c7"/>
<use href="#k92" fill="#da4b52"/>
<use href="#k93" fill="#fcd6a2"/>
<use href="#k94" fill="#f4a679"/>
<use href="#k95" fill="#da4b52"/>
<use href="#k96" fill="#f4a679"/>
<use href="#k97" fill="#f4a679"/>
<use href="#k98" fill="#f2f7c7"/>
<use href="#k99" fill="#f4a679"/>
<use href="#k100" fill="#da4b52"/>
<use href="#k101" fill="#f2f7c7"/>
<use href="#k102" fill="#fcd6a2"/>
</g>
</g>
<rect x="0.4" y="0.4" width="128.5" height="89.5" fill="none" stroke="#fff" stroke-width="0.8" opacity="0.8"/>
<text filter="url(#gs)" x="125.3" y="84.7" font-size="8.65" text-anchor="end" fill="#1a1a1a">Areal-weighted</text>
<text class="sf" filter="url(#gs)" x="7.5" y="14.5" font-size="10.6" fill="#2a2a2a">R<tspan font-size="6.6" dy="-3.5">2</tspan><tspan dy="3.5">=0.53</tspan></text>
</g>
<g transform="translate(409.9,257)">
<clipPath id="cb4"><rect x="0" y="0" width="129.1" height="90.3"/></clipPath>
<g clip-path="url(#cb4)">
<rect x="0" y="0" width="129.1" height="90.3" fill="#f9f9f9"/>
<use href="#basel"/>
<use href="#sea"/>
<path d="M69.5,52.5 L71,50.6 L74,50.2 L77.5,51 L80.2,52.3 L80.6,54.2 L78,55.8 L74,56.6 L71,55.8 Z" fill="#eceef0"/>
<g fill="#b8c2d8" opacity="0.55"><rect x="7.5" y="8.8" width="6.6" height="0.9"/><rect x="21.2" y="35.4" width="7" height="0.9"/><rect x="9" y="47.4" width="5" height="0.8"/><rect x="113.6" y="10.3" width="6.4" height="0.9"/><rect x="119" y="35.4" width="5.6" height="0.9"/></g>
<g stroke="#1a1a10" stroke-opacity="0.32" stroke-width="0.45">
<use href="#k0" fill="#f2f7c7"/>
<use href="#k1" fill="#fcd6a2"/>
<use href="#k2" fill="#fcd6a2"/>
<use href="#k3" fill="#fcd6a2"/>
<use href="#k4" fill="#da4b52"/>
<use href="#k5" fill="#f2f7c7"/>
<use href="#k6" fill="#da4b52"/>
<use href="#k7" fill="#f4a679"/>
<use href="#k8" fill="#fcd6a2"/>
<use href="#k9" fill="#fcd6a2"/>
<use href="#k10" fill="#da4b52"/>
<use href="#k11" fill="#f4a679"/>
<use href="#k12" fill="#f2f7c7"/>
<use href="#k13" fill="#f4a679"/>
<use href="#k14" fill="#f4a679"/>
<use href="#k15" fill="#fcd6a2"/>
<use href="#k16" fill="#f2f7c7"/>
<use href="#k17" fill="#da4b52"/>
<use href="#k18" fill="#fcd6a2"/>
<use href="#k19" fill="#da4b52"/>
<use href="#k20" fill="#f4a679"/>
<use href="#k21" fill="#f4a679"/>
<use href="#k22" fill="#fcd6a2"/>
<use href="#k23" fill="#da4b52"/>
<use href="#k24" fill="#da4b52"/>
<use href="#k25" fill="#fcd6a2"/>
<use href="#k26" fill="#f4a679"/>
<use href="#k27" fill="#f4a679"/>
<use href="#k28" fill="#f4a679"/>
<use href="#k29" fill="#fcd6a2"/>
<use href="#k30" fill="#f4a679"/>
<use href="#k31" fill="#fcd6a2"/>
<use href="#k32" fill="#fcd6a2"/>
<use href="#k33" fill="#f2f7c7"/>
<use href="#k34" fill="#fcd6a2"/>
<use href="#k35" fill="#f4a679"/>
<use href="#k36" fill="#da4b52"/>
<use href="#k37" fill="#da4b52"/>
<use href="#k38" fill="#f4a679"/>
<use href="#k39" fill="#da4b52"/>
<use href="#k40" fill="#f2f7c7"/>
<use href="#k41" fill="#f2f7c7"/>
<use href="#k42" fill="#fcd6a2"/>
<use href="#k43" fill="#da4b52"/>
<use href="#k44" fill="#fcd6a2"/>
<use href="#k45" fill="#da4b52"/>
<use href="#k46" fill="#da4b52"/>
<use href="#k47" fill="#f2f7c7"/>
<use href="#k48" fill="#fcd6a2"/>
<use href="#k49" fill="#fcd6a2"/>
<use href="#k50" fill="#fcd6a2"/>
<use href="#k51" fill="#f4a679"/>
<use href="#k52" fill="#f2f7c7"/>
<use href="#k53" fill="#fcd6a2"/>
<use href="#k54" fill="#da4b52"/>
<use href="#k55" fill="#f2f7c7"/>
<use href="#k56" fill="#fcd6a2"/>
<use href="#k57" fill="#da4b52"/>
<use href="#k58" fill="#acda89"/>
<use href="#k59" fill="#da4b52"/>
<use href="#k60" fill="#da4b52"/>
<use href="#k61" fill="#f4a679"/>
<use href="#k62" fill="#f2f7c7"/>
<use href="#k63" fill="#da4b52"/>
<use href="#k64" fill="#f2f7c7"/>
<use href="#k65" fill="#f2f7c7"/>
<use href="#k66" fill="#da4b52"/>
<use href="#k67" fill="#f2f7c7"/>
<use href="#k68" fill="#f2f7c7"/>
<use href="#k69" fill="#f2f7c7"/>
<use href="#k70" fill="#da4b52"/>
<use href="#k71" fill="#f4a679"/>
<use href="#k72" fill="#fcd6a2"/>
<use href="#k73" fill="#da4b52"/>
<use href="#k74" fill="#da4b52"/>
<use href="#k75" fill="#f4a679"/>
<use href="#k76" fill="#fcd6a2"/>
<use href="#k77" fill="#da4b52"/>
<use href="#k78" fill="#f4a679"/>
<use href="#k79" fill="#da4b52"/>
<use href="#k80" fill="#da4b52"/>
<use href="#k81" fill="#fcd6a2"/>
<use href="#k82" fill="#da4b52"/>
<use href="#k83" fill="#fcd6a2"/>
<use href="#k84" fill="#f4a679"/>
<use href="#k85" fill="#f2f7c7"/>
<use href="#k86" fill="#fcd6a2"/>
<use href="#k87" fill="#f4a679"/>
<use href="#k88" fill="#f4a679"/>
<use href="#k89" fill="#da4b52"/>
<use href="#k90" fill="#da4b52"/>
<use href="#k91" fill="#fcd6a2"/>
<use href="#k92" fill="#da4b52"/>
<use href="#k93" fill="#fcd6a2"/>
<use href="#k94" fill="#f2f7c7"/>
<use href="#k95" fill="#fcd6a2"/>
<use href="#k96" fill="#f2f7c7"/>
<use href="#k97" fill="#f4a679"/>
<use href="#k98" fill="#da4b52"/>
<use href="#k99" fill="#f4a679"/>
<use href="#k100" fill="#da4b52"/>
<use href="#k101" fill="#f2f7c7"/>
<use href="#k102" fill="#fcd6a2"/>
</g>
</g>
<rect x="0.4" y="0.4" width="128.3" height="89.5" fill="none" stroke="#fff" stroke-width="0.8" opacity="0.8"/>
<text filter="url(#gs)" x="118.8" y="84.9" font-size="8.65" text-anchor="end" fill="#1a1a1a">XGBoost</text>
<text class="sf" filter="url(#gs)" x="9.4" y="13.5" font-size="10.6" fill="#2a2a2a">R<tspan font-size="6.6" dy="-3.5">2</tspan><tspan dy="3.5">=0.63</tspan></text>
</g>
<g transform="translate(544.8,257)">
<clipPath id="cb5"><rect x="0" y="0" width="129.1" height="90.3"/></clipPath>
<g clip-path="url(#cb5)">
<rect x="0" y="0" width="129.1" height="90.3" fill="#f9f9f9"/>
<use href="#basel"/>
<use href="#sea"/>
<path d="M69.5,52.5 L71,50.6 L74,50.2 L77.5,51 L80.2,52.3 L80.6,54.2 L78,55.8 L74,56.6 L71,55.8 Z" fill="#eceef0"/>
<g fill="#b8c2d8" opacity="0.55"><rect x="7.5" y="8.8" width="6.6" height="0.9"/><rect x="21.2" y="35.4" width="7" height="0.9"/><rect x="9" y="47.4" width="5" height="0.8"/><rect x="113.6" y="10.3" width="6.4" height="0.9"/><rect x="119" y="35.4" width="5.6" height="0.9"/></g>
<g stroke="#1a1a10" stroke-opacity="0.32" stroke-width="0.45">
<use href="#k0" fill="#acda89"/>
<use href="#k1" fill="#f2f7c7"/>
<use href="#k2" fill="#f2f7c7"/>
<use href="#k3" fill="#f2f7c7"/>
<use href="#k4" fill="#f2f7c7"/>
<use href="#k5" fill="#acda89"/>
<use href="#k6" fill="#da4b52"/>
<use href="#k7" fill="#acda89"/>
<use href="#k8" fill="#f2f7c7"/>
<use href="#k9" fill="#f2f7c7"/>
<use href="#k10" fill="#fcd6a2"/>
<use href="#k11" fill="#da4b52"/>
<use href="#k12" fill="#f2f7c7"/>
<use href="#k13" fill="#fcd6a2"/>
<use href="#k14" fill="#f4a679"/>
<use href="#k15" fill="#f2f7c7"/>
<use href="#k16" fill="#acda89"/>
<use href="#k17" fill="#f4a679"/>
<use href="#k18" fill="#acda89"/>
<use href="#k19" fill="#f2f7c7"/>
<use href="#k20" fill="#acda89"/>
<use href="#k21" fill="#fcd6a2"/>
<use href="#k22" fill="#fcd6a2"/>
<use href="#k23" fill="#da4b52"/>
<use href="#k24" fill="#da4b52"/>
<use href="#k25" fill="#acda89"/>
<use href="#k26" fill="#fcd6a2"/>
<use href="#k27" fill="#f2f7c7"/>
<use href="#k28" fill="#acda89"/>
<use href="#k29" fill="#acda89"/>
<use href="#k30" fill="#fcd6a2"/>
<use href="#k31" fill="#fcd6a2"/>
<use href="#k32" fill="#f2f7c7"/>
<use href="#k33" fill="#f2f7c7"/>
<use href="#k34" fill="#acda89"/>
<use href="#k35" fill="#f2f7c7"/>
<use href="#k36" fill="#f4a679"/>
<use href="#k37" fill="#f2f7c7"/>
<use href="#k38" fill="#acda89"/>
<use href="#k39" fill="#da4b52"/>
<use href="#k40" fill="#acda89"/>
<use href="#k41" fill="#acda89"/>
<use href="#k42" fill="#f2f7c7"/>
<use href="#k43" fill="#fcd6a2"/>
<use href="#k44" fill="#acda89"/>
<use href="#k45" fill="#da4b52"/>
<use href="#k46" fill="#f4a679"/>
<use href="#k47" fill="#acda89"/>
<use href="#k48" fill="#f4a679"/>
<use href="#k49" fill="#acda89"/>
<use href="#k50" fill="#f4a679"/>
<use href="#k51" fill="#f2f7c7"/>
<use href="#k52" fill="#acda89"/>
<use href="#k53" fill="#f2f7c7"/>
<use href="#k54" fill="#da4b52"/>
<use href="#k55" fill="#f2f7c7"/>
<use href="#k56" fill="#fcd6a2"/>
<use href="#k57" fill="#da4b52"/>
<use href="#k58" fill="#acda89"/>
<use href="#k59" fill="#da4b52"/>
<use href="#k60" fill="#da4b52"/>
<use href="#k61" fill="#fcd6a2"/>
<use href="#k62" fill="#f2f7c7"/>
<use href="#k63" fill="#da4b52"/>
<use href="#k64" fill="#f2f7c7"/>
<use href="#k65" fill="#acda89"/>
<use href="#k66" fill="#f4a679"/>
<use href="#k67" fill="#fcd6a2"/>
<use href="#k68" fill="#f2f7c7"/>
<use href="#k69" fill="#f2f7c7"/>
<use href="#k70" fill="#f4a679"/>
<use href="#k71" fill="#acda89"/>
<use href="#k72" fill="#f2f7c7"/>
<use href="#k73" fill="#fcd6a2"/>
<use href="#k74" fill="#da4b52"/>
<use href="#k75" fill="#f2f7c7"/>
<use href="#k76" fill="#f4a679"/>
<use href="#k77" fill="#f4a679"/>
<use href="#k78" fill="#f2f7c7"/>
<use href="#k79" fill="#da4b52"/>
<use href="#k80" fill="#da4b52"/>
<use href="#k81" fill="#f4a679"/>
<use href="#k82" fill="#f2f7c7"/>
<use href="#k83" fill="#f2f7c7"/>
<use href="#k84" fill="#f2f7c7"/>
<use href="#k85" fill="#acda89"/>
<use href="#k86" fill="#fcd6a2"/>
<use href="#k87" fill="#fcd6a2"/>
<use href="#k88" fill="#f2f7c7"/>
<use href="#k89" fill="#da4b52"/>
<use href="#k90" fill="#f4a679"/>
<use href="#k91" fill="#acda89"/>
<use href="#k92" fill="#da4b52"/>
<use href="#k93" fill="#f2f7c7"/>
<use href="#k94" fill="#f2f7c7"/>
<use href="#k95" fill="#f2f7c7"/>
<use href="#k96" fill="#acda89"/>
<use href="#k97" fill="#f2f7c7"/>
<use href="#k98" fill="#fcd6a2"/>
<use href="#k99" fill="#f2f7c7"/>
<use href="#k100" fill="#da4b52"/>
<use href="#k101" fill="#acda89"/>
<use href="#k102" fill="#acda89"/>
</g>
</g>
<rect x="0.4" y="0.4" width="128.3" height="89.5" fill="none" stroke="#fff" stroke-width="0.8" opacity="0.8"/>
<text filter="url(#gs)" x="125.2" y="84.5" font-size="8.65" text-anchor="end" fill="#1a1a1a">DNN</text>
<text class="sf" filter="url(#gs)" x="8.3" y="13.4" font-size="10.6" fill="#2a2a2a">R<tspan font-size="6.6" dy="-3.5">2</tspan><tspan dy="3.5">=0.61</tspan></text>
</g>
<linearGradient id="cbg155" x1="21.3" x2="662.8" y1="0" y2="0" gradientUnits="userSpaceOnUse"><stop offset="0.00000" stop-color="#a0d46c"/><stop offset="0.19844" stop-color="#a0d46c"/><stop offset="0.20218" stop-color="#ecf6b2"/><stop offset="0.39922" stop-color="#ecf6b2"/><stop offset="0.40296" stop-color="#f6d18d"/><stop offset="0.59751" stop-color="#f6d18d"/><stop offset="0.60125" stop-color="#f59a58"/><stop offset="0.79766" stop-color="#f59a58"/><stop offset="0.80140" stop-color="#d92b2b"/><stop offset="1.00000" stop-color="#d92b2b"/></linearGradient>
<rect x="21.3" y="155.2" width="641.5" height="7.7" fill="url(#cbg155)"/>
<rect x="21.3" y="155.2" width="128.5" height="1.1" fill="#ffffff"/>
<rect x="21.3" y="161.7" width="128.5" height="1.2" fill="#e6e84a"/>
<rect x="149.8" y="155.2" width="128.8" height="1.1" fill="#ffffff"/>
<rect x="149.8" y="161.7" width="128.8" height="1.2" fill="#fbfdf0"/>
<rect x="278.6" y="155.2" width="127.2" height="1.1" fill="#ffffff"/>
<rect x="278.6" y="161.7" width="127.2" height="1.2" fill="#f3ee48"/>
<rect x="405.8" y="155.2" width="128.4" height="1.1" fill="#ffffff"/>
<rect x="405.8" y="161.7" width="128.4" height="1.2" fill="#f37a72"/>
<rect x="534.2" y="155.2" width="128.6" height="1.1" fill="#f77b7b"/>
<rect x="534.2" y="161.7" width="128.6" height="1.2" fill="#ff1a1a"/>
<text filter="url(#gs)" x="24.8" y="174.4" font-size="9.3" font-weight="normal" text-anchor="middle" fill="#000" stroke="#d6d6d6" stroke-width="1.7" paint-order="stroke" stroke-linejoin="round">0%</text><text filter="url(#gs)" x="24.8" y="174.4" font-size="9.3" font-weight="normal" text-anchor="middle" fill="#000" stroke="#000" stroke-width="0.35" stroke-linejoin="round">0%</text>
<text filter="url(#gs)" x="149.4" y="174.4" font-size="9.3" font-weight="normal" text-anchor="middle" fill="#000" stroke="#d6d6d6" stroke-width="1.7" paint-order="stroke" stroke-linejoin="round">20%</text><text filter="url(#gs)" x="149.4" y="174.4" font-size="9.3" font-weight="normal" text-anchor="middle" fill="#000" stroke="#000" stroke-width="0.35" stroke-linejoin="round">20%</text>
<text filter="url(#gs)" x="279.5" y="174.4" font-size="9.3" font-weight="normal" text-anchor="middle" fill="#000" stroke="#d6d6d6" stroke-width="1.7" paint-order="stroke" stroke-linejoin="round">40%</text><text filter="url(#gs)" x="279.5" y="174.4" font-size="9.3" font-weight="normal" text-anchor="middle" fill="#000" stroke="#000" stroke-width="0.35" stroke-linejoin="round">40%</text>
<text filter="url(#gs)" x="407.4" y="174.4" font-size="9.3" font-weight="normal" text-anchor="middle" fill="#000" stroke="#d6d6d6" stroke-width="1.7" paint-order="stroke" stroke-linejoin="round">60%</text><text filter="url(#gs)" x="407.4" y="174.4" font-size="9.3" font-weight="normal" text-anchor="middle" fill="#000" stroke="#000" stroke-width="0.35" stroke-linejoin="round">60%</text>
<text filter="url(#gs)" x="536.3" y="174.4" font-size="9.3" font-weight="normal" text-anchor="middle" fill="#000" stroke="#d6d6d6" stroke-width="1.7" paint-order="stroke" stroke-linejoin="round">80%</text><text filter="url(#gs)" x="536.3" y="174.4" font-size="9.3" font-weight="normal" text-anchor="middle" fill="#000" stroke="#000" stroke-width="0.35" stroke-linejoin="round">80%</text>
<text filter="url(#gs)" x="659.9" y="174.4" font-size="9.3" font-weight="normal" text-anchor="middle" fill="#000" stroke="#d6d6d6" stroke-width="1.7" paint-order="stroke" stroke-linejoin="round">100%</text><text filter="url(#gs)" x="659.9" y="174.4" font-size="9.3" font-weight="normal" text-anchor="middle" fill="#000" stroke="#000" stroke-width="0.35" stroke-linejoin="round">100%</text>
<linearGradient id="cbg352" x1="21.3" x2="662.8" y1="0" y2="0" gradientUnits="userSpaceOnUse"><stop offset="0.00000" stop-color="#a0d46c"/><stop offset="0.19844" stop-color="#a0d46c"/><stop offset="0.20218" stop-color="#ecf6b2"/><stop offset="0.39922" stop-color="#ecf6b2"/><stop offset="0.40296" stop-color="#f6d18d"/><stop offset="0.59751" stop-color="#f6d18d"/><stop offset="0.60125" stop-color="#f59a58"/><stop offset="0.79766" stop-color="#f59a58"/><stop offset="0.80140" stop-color="#d92b2b"/><stop offset="1.00000" stop-color="#d92b2b"/></linearGradient>
<rect x="21.3" y="352.9" width="641.5" height="6.9" fill="url(#cbg352)"/>
<text filter="url(#gs)" x="24.8" y="371.3" font-size="9.3" font-weight="normal" text-anchor="middle" fill="#000" stroke="#d6d6d6" stroke-width="1.7" paint-order="stroke" stroke-linejoin="round">0%</text><text filter="url(#gs)" x="24.8" y="371.3" font-size="9.3" font-weight="normal" text-anchor="middle" fill="#000" stroke="#000" stroke-width="0.35" stroke-linejoin="round">0%</text>
<text filter="url(#gs)" x="149.4" y="371.3" font-size="9.3" font-weight="normal" text-anchor="middle" fill="#000" stroke="#d6d6d6" stroke-width="1.7" paint-order="stroke" stroke-linejoin="round">20%</text><text filter="url(#gs)" x="149.4" y="371.3" font-size="9.3" font-weight="normal" text-anchor="middle" fill="#000" stroke="#000" stroke-width="0.35" stroke-linejoin="round">20%</text>
<text filter="url(#gs)" x="279.5" y="371.3" font-size="9.3" font-weight="normal" text-anchor="middle" fill="#000" stroke="#d6d6d6" stroke-width="1.7" paint-order="stroke" stroke-linejoin="round">40%</text><text filter="url(#gs)" x="279.5" y="371.3" font-size="9.3" font-weight="normal" text-anchor="middle" fill="#000" stroke="#000" stroke-width="0.35" stroke-linejoin="round">40%</text>
<text filter="url(#gs)" x="407.4" y="371.3" font-size="9.3" font-weight="normal" text-anchor="middle" fill="#000" stroke="#d6d6d6" stroke-width="1.7" paint-order="stroke" stroke-linejoin="round">60%</text><text filter="url(#gs)" x="407.4" y="371.3" font-size="9.3" font-weight="normal" text-anchor="middle" fill="#000" stroke="#000" stroke-width="0.35" stroke-linejoin="round">60%</text>
<text filter="url(#gs)" x="536.3" y="371.3" font-size="9.3" font-weight="normal" text-anchor="middle" fill="#000" stroke="#d6d6d6" stroke-width="1.7" paint-order="stroke" stroke-linejoin="round">80%</text><text filter="url(#gs)" x="536.3" y="371.3" font-size="9.3" font-weight="normal" text-anchor="middle" fill="#000" stroke="#000" stroke-width="0.35" stroke-linejoin="round">80%</text>
<text filter="url(#gs)" x="659.9" y="371.3" font-size="9.3" font-weight="normal" text-anchor="middle" fill="#000" stroke="#d6d6d6" stroke-width="1.7" paint-order="stroke" stroke-linejoin="round">100%</text><text filter="url(#gs)" x="659.9" y="371.3" font-size="9.3" font-weight="normal" text-anchor="middle" fill="#000" stroke="#000" stroke-width="0.35" stroke-linejoin="round">100%</text>
</svg></body></html>
